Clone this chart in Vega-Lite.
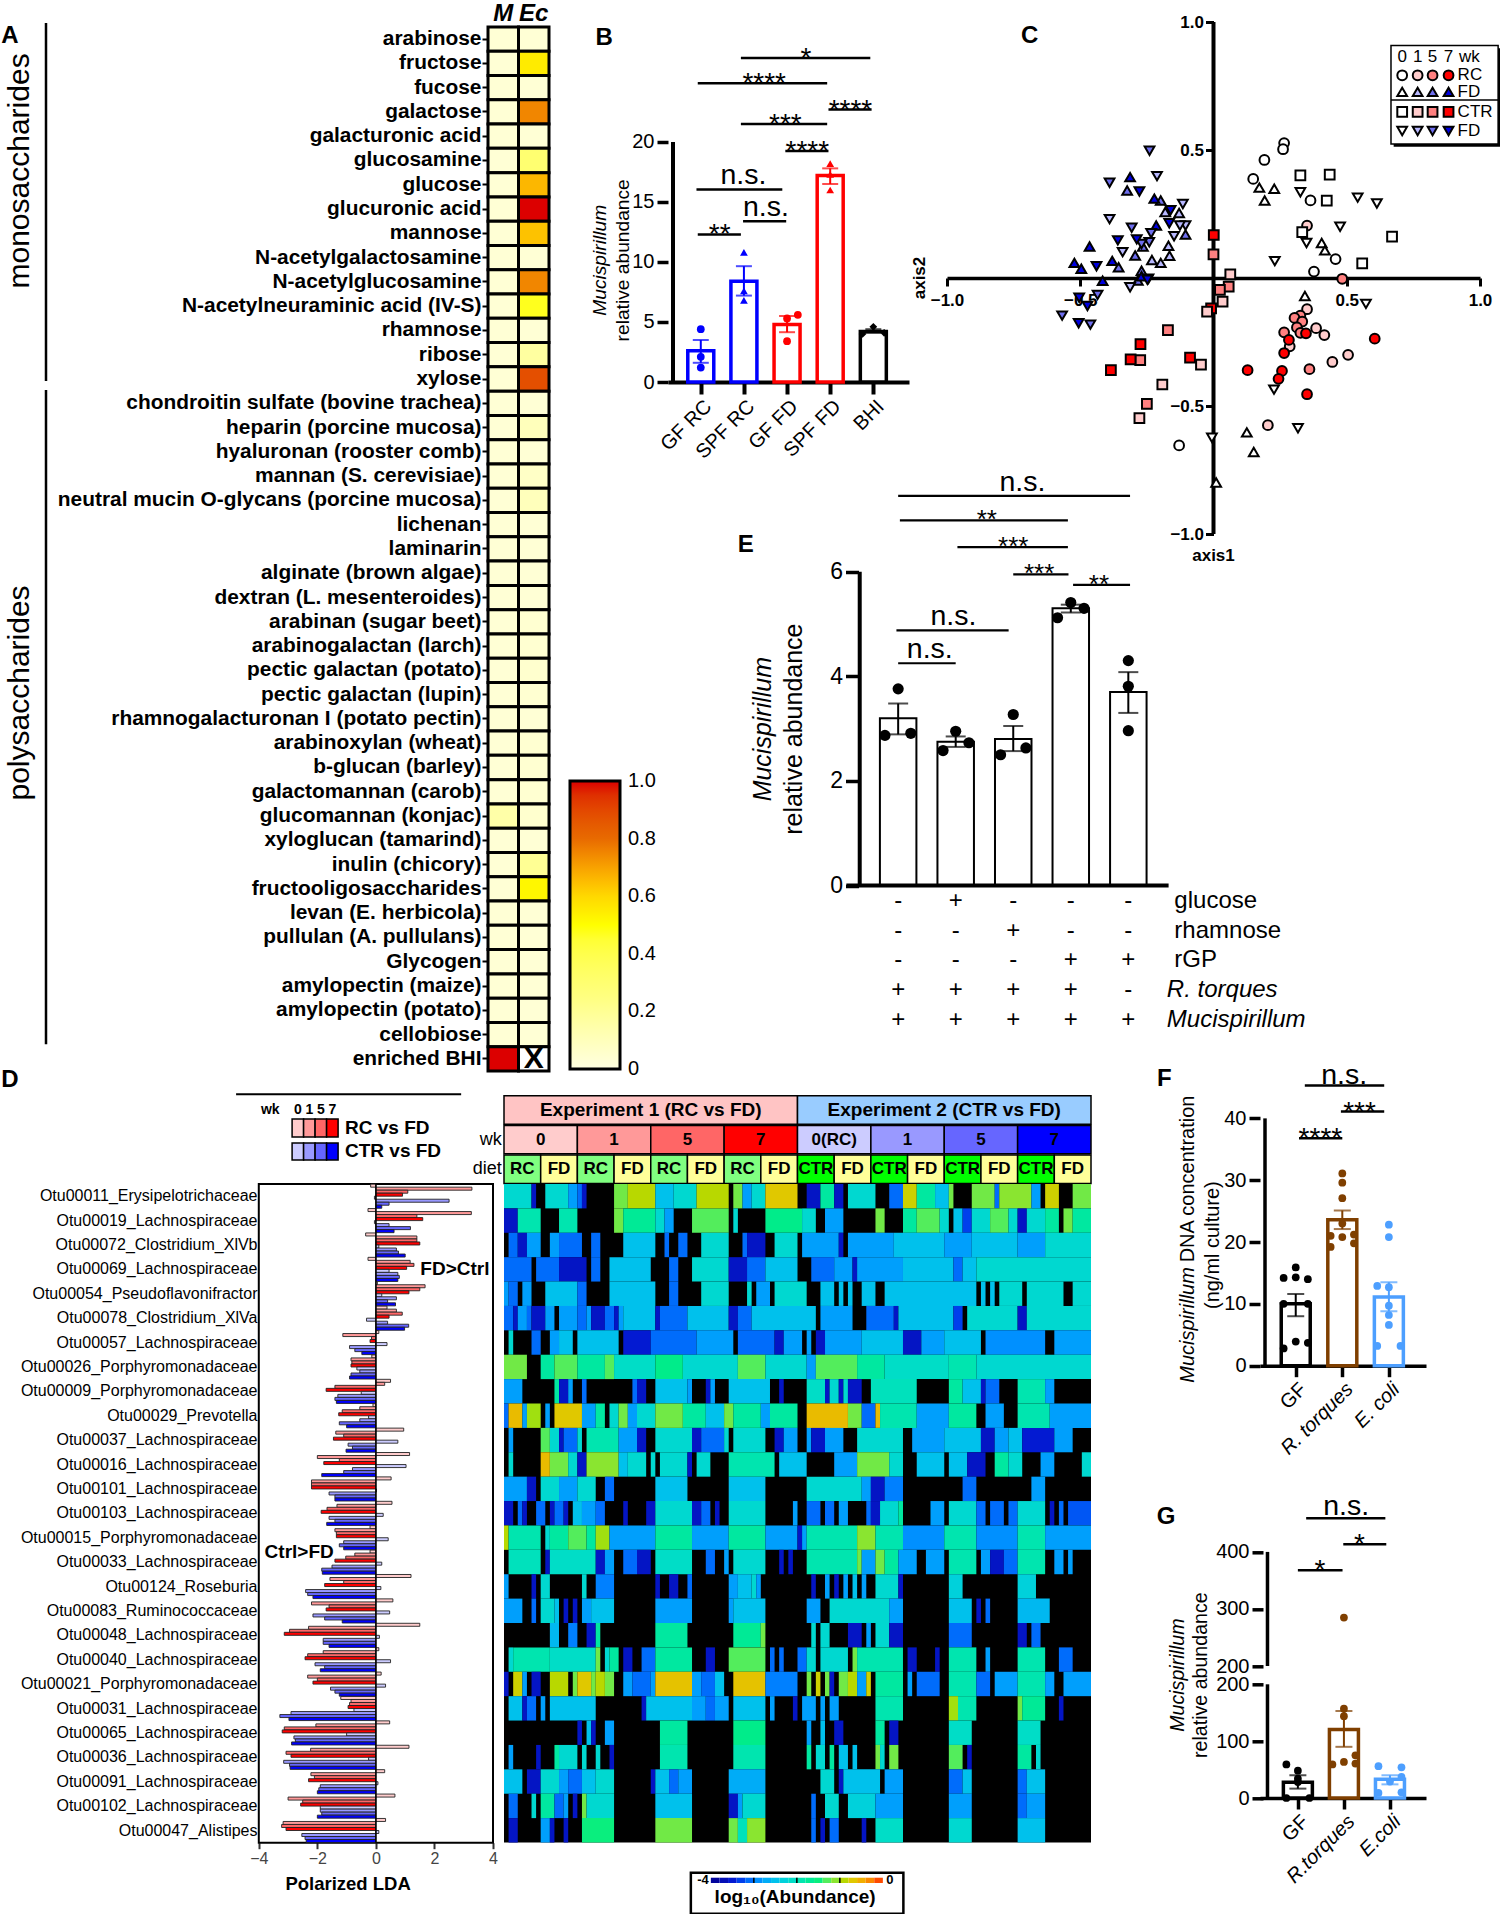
{"$schema":"https://vega.github.io/schema/vega-lite/v6.json","padding":0,"background":"white","config":{"font":"Liberation Sans","view":{"stroke":null},"axis":{"grid":false,"labelColor":"black","tickColor":"black","domainColor":"black","labelFlush":false,"labelOverlap":false,"labelFont":"Liberation Sans","labelBound":false},"text":{"font":"Liberation Sans"}},
"bounds":"flush","spacing":1072,"resolve":{"scale":{"color":"independent","stroke":"independent","shape":"independent"}},
"vconcat":[
{"hconcat":[
 {"hconcat":[
  {"width":488,"height":1071,
   "encoding":{"x":{"field":"x","type":"quantitative","scale":{"domain":[0,488],"nice":false,"zero":false},"axis":null},"y":{"field":"y","type":"quantitative","scale":{"domain":[43,-1.11],"nice":false,"zero":false},"axis":null}},
   "layer":[
    {"data":{"values":[{"x":46,"y":-0.16,"y2":14.58},{"x":46,"y":14.95,"y2":41.9}]},"mark":{"type":"rule","strokeWidth":2.5,"color":"black"},"encoding":{"y2":{"field":"y2"}}},
    {"data":{"values":[{"x":20,"y":5.93,"t":"monosaccharides"},{"x":20,"y":27.43,"t":"polysaccharides"}]},"mark":{"type":"text","angle":270,"fontSize":30,"baseline":"middle","align":"center"},"encoding":{"text":{"field":"t"}}},
    {"data":{"values":[{"x":10,"y":0.37,"t":"A"}]},"mark":{"type":"text","fontSize":24,"fontWeight":"bold","baseline":"middle","align":"center"},"encoding":{"text":{"field":"t"}}}
   ]},
  {"width":61,"height":1071,
   "encoding":{"x":{"field":"c","type":"nominal","scale":{"domain":["M","Ec"],"paddingInner":0,"paddingOuter":0},"axis":null},
    "y":{"field":"s","type":"nominal","scale":{"domain":["_h","arabinose","fructose","fucose","galactose","galacturonic acid","glucosamine","glucose","glucuronic acid","mannose","N-acetylgalactosamine","N-acetylglucosamine","N-acetylneuraminic acid (IV-S)","rhamnose","ribose","xylose","chondroitin sulfate (bovine trachea)","heparin (porcine mucosa)","hyaluronan (rooster comb)","mannan (S. cerevisiae)","neutral mucin O-glycans (porcine mucosa)","lichenan","laminarin","alginate (brown algae)","dextran (L. mesenteroides)","arabinan (sugar beet)","arabinogalactan (larch)","pectic galactan (potato)","pectic galactan (lupin)","rhamnogalacturonan I (potato pectin)","arabinoxylan (wheat)","b-glucan (barley)","galactomannan (carob)","glucomannan (konjac)","xyloglucan (tamarind)","inulin (chicory)","fructooligosaccharides","levan (E. herbicola)","pullulan (A. pullulans)","Glycogen","amylopectin (maize)","amylopectin (potato)","cellobiose","enriched BHI"],"paddingInner":0,"paddingOuter":0.055,"align":1},
     "axis":{"title":null,"domain":false,"tickSize":6,"tickWidth":2,"labelFontSize":20.9,"labelFontWeight":"bold","labelPadding":1,"labelLimit":600,"values":["arabinose","fructose","fucose","galactose","galacturonic acid","glucosamine","glucose","glucuronic acid","mannose","N-acetylgalactosamine","N-acetylglucosamine","N-acetylneuraminic acid (IV-S)","rhamnose","ribose","xylose","chondroitin sulfate (bovine trachea)","heparin (porcine mucosa)","hyaluronan (rooster comb)","mannan (S. cerevisiae)","neutral mucin O-glycans (porcine mucosa)","lichenan","laminarin","alginate (brown algae)","dextran (L. mesenteroides)","arabinan (sugar beet)","arabinogalactan (larch)","pectic galactan (potato)","pectic galactan (lupin)","rhamnogalacturonan I (potato pectin)","arabinoxylan (wheat)","b-glucan (barley)","galactomannan (carob)","glucomannan (konjac)","xyloglucan (tamarind)","inulin (chicory)","fructooligosaccharides","levan (E. herbicola)","pullulan (A. pullulans)","Glycogen","amylopectin (maize)","amylopectin (potato)","cellobiose","enriched BHI"]}}},
   "layer":[
    {"data":{"values":[{"s":"arabinose","c":"M","v":0.03},{"s":"arabinose","c":"Ec","v":0.03},{"s":"fructose","c":"M","v":0.03},{"s":"fructose","c":"Ec","v":0.55},{"s":"fucose","c":"M","v":0.03},{"s":"fucose","c":"Ec","v":0.03},{"s":"galactose","c":"M","v":0.03},{"s":"galactose","c":"Ec","v":0.75},{"s":"galacturonic acid","c":"M","v":0.03},{"s":"galacturonic acid","c":"Ec","v":0.03},{"s":"glucosamine","c":"M","v":0.03},{"s":"glucosamine","c":"Ec","v":0.3},{"s":"glucose","c":"M","v":0.03},{"s":"glucose","c":"Ec","v":0.66},{"s":"glucuronic acid","c":"M","v":0.03},{"s":"glucuronic acid","c":"Ec","v":1},{"s":"mannose","c":"M","v":0.03},{"s":"mannose","c":"Ec","v":0.64},{"s":"N-acetylgalactosamine","c":"M","v":0.03},{"s":"N-acetylgalactosamine","c":"Ec","v":0.03},{"s":"N-acetylglucosamine","c":"M","v":0.03},{"s":"N-acetylglucosamine","c":"Ec","v":0.75},{"s":"N-acetylneuraminic acid (IV-S)","c":"M","v":0.03},{"s":"N-acetylneuraminic acid (IV-S)","c":"Ec","v":0.48},{"s":"rhamnose","c":"M","v":0.03},{"s":"rhamnose","c":"Ec","v":0.03},{"s":"ribose","c":"M","v":0.03},{"s":"ribose","c":"Ec","v":0.17},{"s":"xylose","c":"M","v":0.03},{"s":"xylose","c":"Ec","v":0.88},{"s":"chondroitin sulfate (bovine trachea)","c":"M","v":0.03},{"s":"chondroitin sulfate (bovine trachea)","c":"Ec","v":0.03},{"s":"heparin (porcine mucosa)","c":"M","v":0.03},{"s":"heparin (porcine mucosa)","c":"Ec","v":0.1},{"s":"hyaluronan (rooster comb)","c":"M","v":0.03},{"s":"hyaluronan (rooster comb)","c":"Ec","v":0.03},{"s":"mannan (S. cerevisiae)","c":"M","v":0.03},{"s":"mannan (S. cerevisiae)","c":"Ec","v":0.07},{"s":"neutral mucin O-glycans (porcine mucosa)","c":"M","v":0.03},{"s":"neutral mucin O-glycans (porcine mucosa)","c":"Ec","v":0.1},{"s":"lichenan","c":"M","v":0.03},{"s":"lichenan","c":"Ec","v":0.03},{"s":"laminarin","c":"M","v":0.03},{"s":"laminarin","c":"Ec","v":0.03},{"s":"alginate (brown algae)","c":"M","v":0.03},{"s":"alginate (brown algae)","c":"Ec","v":0.03},{"s":"dextran (L. mesenteroides)","c":"M","v":0.03},{"s":"dextran (L. mesenteroides)","c":"Ec","v":0.03},{"s":"arabinan (sugar beet)","c":"M","v":0.03},{"s":"arabinan (sugar beet)","c":"Ec","v":0.04},{"s":"arabinogalactan (larch)","c":"M","v":0.03},{"s":"arabinogalactan (larch)","c":"Ec","v":0.04},{"s":"pectic galactan (potato)","c":"M","v":0.03},{"s":"pectic galactan (potato)","c":"Ec","v":0.05},{"s":"pectic galactan (lupin)","c":"M","v":0.03},{"s":"pectic galactan (lupin)","c":"Ec","v":0.04},{"s":"rhamnogalacturonan I (potato pectin)","c":"M","v":0.03},{"s":"rhamnogalacturonan I (potato pectin)","c":"Ec","v":0.03},{"s":"arabinoxylan (wheat)","c":"M","v":0.03},{"s":"arabinoxylan (wheat)","c":"Ec","v":0.04},{"s":"b-glucan (barley)","c":"M","v":0.03},{"s":"b-glucan (barley)","c":"Ec","v":0.04},{"s":"galactomannan (carob)","c":"M","v":0.03},{"s":"galactomannan (carob)","c":"Ec","v":0.04},{"s":"glucomannan (konjac)","c":"M","v":0.15},{"s":"glucomannan (konjac)","c":"Ec","v":0.05},{"s":"xyloglucan (tamarind)","c":"M","v":0.03},{"s":"xyloglucan (tamarind)","c":"Ec","v":0.03},{"s":"inulin (chicory)","c":"M","v":0.03},{"s":"inulin (chicory)","c":"Ec","v":0.2},{"s":"fructooligosaccharides","c":"M","v":0.03},{"s":"fructooligosaccharides","c":"Ec","v":0.52},{"s":"levan (E. herbicola)","c":"M","v":0.03},{"s":"levan (E. herbicola)","c":"Ec","v":0.03},{"s":"pullulan (A. pullulans)","c":"M","v":0.03},{"s":"pullulan (A. pullulans)","c":"Ec","v":0.03},{"s":"Glycogen","c":"M","v":0.03},{"s":"Glycogen","c":"Ec","v":0.03},{"s":"amylopectin (maize)","c":"M","v":0.03},{"s":"amylopectin (maize)","c":"Ec","v":0.03},{"s":"amylopectin (potato)","c":"M","v":0.03},{"s":"amylopectin (potato)","c":"Ec","v":0.03},{"s":"cellobiose","c":"M","v":0.03},{"s":"cellobiose","c":"Ec","v":0.03},{"s":"enriched BHI","c":"M","v":1}]},
     "mark":{"type":"rect","stroke":"black","strokeWidth":3},
     "encoding":{"color":{"field":"v","type":"quantitative","scale":{"domain":[0,0.25,0.5,0.6,0.8,1],"range":["#ffffe0","#ffff80","#ffff00","#ffd800","#e86a00","#dc0000"]},
       "legend":{"orient":"none","legendX":82,"legendY":781,"title":null,"type":"gradient","direction":"vertical","gradientLength":288,"gradientThickness":50,"gradientStrokeColor":"black","gradientStrokeWidth":3,"values":[0,0.2,0.4,0.6,0.8,1],"labelFontSize":20,"labelColor":"black","labelExpr":"datum.value==0?'0':format(datum.value,'.1f')","labelOffset":8,"encode":{"labels":{"update":{"baseline":{"value":"middle"}}}}}}}},
    {"data":{"values":[{"s":"enriched BHI","c":"Ec"}]},"mark":{"type":"rect","fill":"white","stroke":"black","strokeWidth":3}},
    {"data":{"values":[{"s":"enriched BHI","c":"Ec","t":"X"}]},"mark":{"type":"text","fontSize":30,"fontWeight":"bold","color":"black","baseline":"middle"},"encoding":{"text":{"field":"t"}}},
    {"data":{"values":[{"s":"_h","c":"M","t":"M"},{"s":"_h","c":"Ec","t":"Ec"}]},"mark":{"type":"text","fontSize":24,"fontWeight":"bold","fontStyle":"italic","color":"black","baseline":"middle","dy":-1},"encoding":{"text":{"field":"t"}}}
   ]}
 ],"spacing":0,"bounds":"flush","resolve":{"scale":{"color":"independent","stroke":"independent","shape":"independent"}}},
 {"vconcat":[
  {"hconcat":[
   {"width":241,"height":382,
    "encoding":{"x":{"field":"x","type":"quantitative","scale":{"domain":[-0.644,4.711],"nice":false,"zero":false},"axis":{"title":null,"values":[0,1,2,3,4],"labelExpr":"['GF RC','SPF RC','GF FD','SPF FD','BHI'][datum.value]","labelAngle":-45,"labelAlign":"right","labelBaseline":"top","tickSize":12,"tickWidth":4,"domainWidth":4,"labelFontSize":20,"labelPadding":2}},
     "y":{"field":"y","type":"quantitative","stack":null,"scale":{"domain":[0,31.83],"nice":false,"zero":false},"axis":{"title":null,"values":[0,5,10,15,20],"domain":false,"tickSize":11,"tickWidth":3.5,"labelFontSize":20,"labelPadding":3}}},
    "layer":[
     {"data":{"values":[{"x":-0.644,"y":0,"y2":20}]},"mark":{"type":"rule","strokeWidth":4,"color":"black"},"encoding":{"y2":{"field":"y2"}}},
     {"data":{"values":[{"x":0,"y":2.6,"k":"RC"},{"x":1,"y":8.4,"k":"RC"},{"x":2,"y":4.8,"k":"FD"},{"x":3,"y":17.2,"k":"FD"},{"x":4,"y":4.2,"k":"BHI"}]},"mark":{"type":"bar","orient":"vertical","width":26,"fill":"white","strokeWidth":3.5},"encoding":{"stroke":{"field":"k","type":"nominal","scale":{"domain":["RC","FD","BHI"],"range":["#0000ff","#ff0000","#000000"]},"legend":null}}},
     {"data":{"values":[{"x":0,"y":1.6,"y2":3.5,"k":"RC"},{"x":1,"y":7.2,"y2":9.65,"k":"RC"},{"x":2,"y":4.15,"y2":5.5,"k":"FD"},{"x":3,"y":16.5,"y2":17.8,"k":"FD"},{"x":4,"y":4.1,"y2":4.4,"k":"BHI"}]},"mark":{"type":"errorbar","ticks":{"size":16,"thickness":2},"rule":{"strokeWidth":2}},"encoding":{"y2":{"field":"y2"},"color":{"field":"k","type":"nominal","scale":{"domain":["RC","FD","BHI"],"range":["#0000ff","#ff0000","#000000"]},"legend":null}}},
     {"data":{"values":[{"x":0,"y":4.4,"k":"RC","g":"GF"},{"x":0,"y":2.1,"k":"RC","g":"GF"},{"x":0,"y":1.2,"k":"RC","g":"GF"},{"x":1,"y":10.8,"k":"RC","g":"SPF"},{"x":1,"y":7.6,"k":"RC","g":"SPF"},{"x":1,"y":6.8,"k":"RC","g":"SPF"},{"x":2,"y":5.3,"k":"FD","g":"GF"},{"x":2.25,"y":5.6,"k":"FD","g":"GF"},{"x":2,"y":3.4,"k":"FD","g":"GF"},{"x":3,"y":18.2,"k":"FD","g":"SPF"},{"x":3,"y":17.3,"k":"FD","g":"SPF"},{"x":3,"y":16,"k":"FD","g":"SPF"},{"x":4,"y":4.6,"k":"BHI","g":"BHI"},{"x":3.75,"y":4,"k":"BHI","g":"BHI"},{"x":4.25,"y":4.1,"k":"BHI","g":"BHI"}]},"mark":{"type":"point","filled":true,"opacity":1,"size":60},"encoding":{"color":{"field":"k","type":"nominal","scale":{"domain":["RC","FD","BHI"],"range":["#0000ff","#ff0000","#000000"]},"legend":null},"shape":{"field":"g","type":"nominal","scale":{"domain":["GF","SPF","BHI"],"range":["circle","triangle-up","diamond"]},"legend":null}}},
     {"data":{"values":[{"x":0.93,"x2":3.93,"y":27},{"x":-0.07,"x2":2.93,"y":24.9},{"x":2.96,"x2":3.96,"y":22.7},{"x":0.93,"x2":2.93,"y":21.5},{"x":1.96,"x2":2.96,"y":19.25},{"x":-0.1,"x2":1.89,"y":16.05},{"x":0.98,"x2":1.98,"y":13.4},{"x":-0.07,"x2":0.93,"y":12.3}]},"mark":{"type":"rule","strokeWidth":2.5,"color":"black"},"encoding":{"x2":{"field":"x2"}}},
     {"data":{"values":[{"x":2.44,"y":27,"t":"*"},{"x":1.47,"y":24.9,"t":"****"},{"x":3.47,"y":22.7,"t":"****"},{"x":1.96,"y":21.5,"t":"***"},{"x":2.47,"y":19.25,"t":"****"},{"x":0.44,"y":12.3,"t":"**"}]},"mark":{"type":"text","fontSize":28,"dy":9,"baseline":"alphabetic"},"encoding":{"text":{"field":"t"}}},
     {"data":{"values":[{"x":0.99,"y":16.05,"t":"n.s."},{"x":1.51,"y":13.4,"t":"n.s."}]},"mark":{"type":"text","fontSize":28.5,"dy":-5,"baseline":"alphabetic"},"encoding":{"text":{"field":"t"}}},
     {"data":{"values":[{"x":-2.34,"y":10.14,"t":"Mucispirillum"}]},"mark":{"type":"text","fontSize":19.2,"fontStyle":"italic","angle":270,"baseline":"middle"},"encoding":{"text":{"field":"t"}}},
     {"data":{"values":[{"x":-1.8,"y":10.14,"t":"relative abundance"}]},"mark":{"type":"text","fontSize":19.2,"angle":270,"baseline":"middle"},"encoding":{"text":{"field":"t"}}},
     {"data":{"values":[{"x":-2.24,"y":28.7,"t":"B"}]},"mark":{"type":"text","fontSize":24,"fontWeight":"bold","baseline":"middle"},"encoding":{"text":{"field":"t"}}}
    ]},
   {"width":533,"height":534,
    "encoding":{"x":{"field":"x","type":"quantitative","scale":{"domain":[-1,1],"nice":false,"zero":false},"axis":{"title":null,"offset":-256,"values":[-1,-0.5,0.5,1],"format":".1f","labelFontSize":17,"labelFontWeight":"bold","tickSize":8,"tickWidth":3,"domainWidth":3.5,"labelPadding":6}},
     "y":{"field":"y","type":"quantitative","scale":{"domain":[-1,1.086],"nice":false,"zero":false},"axis":{"title":null,"offset":-266.5,"values":[-1,-0.5,0.5,1],"format":".1f","domain":false,"labelFontSize":17,"labelFontWeight":"bold","tickSize":8,"tickWidth":3,"labelPadding":2}}},
    "layer":[
     {"data":{"values":[{"x":0,"y":-1,"y2":1}]},"mark":{"type":"rule","strokeWidth":4,"color":"black"},"encoding":{"y2":{"field":"y2"}}},
     {"data":{"values":[{"x":0.676,"x2":1.077,"y":0.898,"y2":0.513}]},"mark":{"type":"rect","fill":"black"},"encoding":{"x2":{"field":"x2"},"y2":{"field":"y2"}}},
     {"data":{"values":[{"x":0.666,"x2":1.068,"y":0.908,"y2":0.523}]},"mark":{"type":"rect","fill":"white","stroke":"black","strokeWidth":1.5},"encoding":{"x2":{"field":"x2"},"y2":{"field":"y2"}}},
     {"data":{"values":[{"x":0.666,"x2":1.068,"y":0.695}]},"mark":{"type":"rule","stroke":"black","strokeWidth":1.5},"encoding":{"x2":{"field":"x2"}}},
     {"data":{"values":[{"x":0.708,"y":0.862,"t":"0"},{"x":0.766,"y":0.862,"t":"1"},{"x":0.822,"y":0.862,"t":"5"},{"x":0.882,"y":0.862,"t":"7"},{"x":0.96,"y":0.862,"t":"wk"}]},"mark":{"type":"text","fontSize":17,"align":"center","baseline":"middle"},"encoding":{"text":{"field":"t"}}},
     {"data":{"values":[{"x":0.916,"y":0.792,"t":"RC"},{"x":0.916,"y":0.727,"t":"FD"},{"x":0.916,"y":0.649,"t":"CTR"},{"x":0.916,"y":0.574,"t":"FD"}]},"mark":{"type":"text","fontSize":17,"align":"left","baseline":"middle"},"encoding":{"text":{"field":"t"}}},
     {"data":{"values":[{"x":0.708,"y":0.792,"g":"c","k":"W"},{"x":0.766,"y":0.792,"g":"c","k":"R1"},{"x":0.822,"y":0.792,"g":"c","k":"R5"},{"x":0.882,"y":0.792,"g":"c","k":"R7"},{"x":0.708,"y":0.727,"g":"u","k":"W"},{"x":0.766,"y":0.727,"g":"u","k":"B1"},{"x":0.822,"y":0.727,"g":"u","k":"B5"},{"x":0.882,"y":0.727,"g":"u","k":"B7"},{"x":0.708,"y":0.649,"g":"s","k":"W"},{"x":0.766,"y":0.649,"g":"s","k":"R1"},{"x":0.822,"y":0.649,"g":"s","k":"R5"},{"x":0.882,"y":0.649,"g":"s","k":"R7"},{"x":0.708,"y":0.574,"g":"d","k":"W"},{"x":0.766,"y":0.574,"g":"d","k":"B1"},{"x":0.822,"y":0.574,"g":"d","k":"B5"},{"x":0.882,"y":0.574,"g":"d","k":"B7"},
      {"x":0.265,"y":0.527,"g":"c","k":"W"},{"x":0.261,"y":0.503,"g":"c","k":"W"},{"x":0.191,"y":0.461,"g":"c","k":"W"},{"x":0.149,"y":0.387,"g":"c","k":"W"},{"x":0.364,"y":0.303,"g":"c","k":"W"},{"x":0.458,"y":0.074,"g":"c","k":"W"},{"x":0.377,"y":0.025,"g":"c","k":"W"},{"x":-0.129,"y":-0.654,"g":"c","k":"W"},
      {"x":0.351,"y":0.205,"g":"c","k":"R1"},{"x":0.351,"y":-0.122,"g":"c","k":"R1"},{"x":0.385,"y":-0.196,"g":"c","k":"R1"},{"x":0.416,"y":-0.223,"g":"c","k":"R1"},{"x":0.286,"y":-0.267,"g":"c","k":"R1"},{"x":0.505,"y":-0.3,"g":"c","k":"R1"},{"x":0.446,"y":-0.328,"g":"c","k":"R1"},{"x":0.204,"y":-0.575,"g":"c","k":"R1"},
      {"x":0.483,"y":-0.003,"g":"c","k":"R5"},{"x":0.326,"y":-0.147,"g":"c","k":"R5"},{"x":0.304,"y":-0.156,"g":"c","k":"R5"},{"x":0.333,"y":-0.17,"g":"c","k":"R5"},{"x":0.313,"y":-0.193,"g":"c","k":"R5"},{"x":0.265,"y":-0.212,"g":"c","k":"R5"},{"x":0.326,"y":-0.214,"g":"c","k":"R5"},{"x":0.36,"y":-0.356,"g":"c","k":"R5"},
      {"x":0.347,"y":-0.216,"g":"c","k":"R7"},{"x":0.283,"y":-0.242,"g":"c","k":"R7"},{"x":0.265,"y":-0.293,"g":"c","k":"R7"},{"x":0.605,"y":-0.237,"g":"c","k":"R7"},{"x":0.128,"y":-0.36,"g":"c","k":"R7"},{"x":0.257,"y":-0.363,"g":"c","k":"R7"},{"x":0.244,"y":-0.394,"g":"c","k":"R7"},{"x":0.351,"y":-0.454,"g":"c","k":"R7"},
      {"x":0.172,"y":0.353,"g":"u","k":"W"},{"x":0.228,"y":0.349,"g":"u","k":"W"},{"x":0.192,"y":0.303,"g":"u","k":"W"},{"x":0.406,"y":0.137,"g":"u","k":"W"},{"x":0.418,"y":0.108,"g":"u","k":"W"},{"x":0.343,"y":-0.07,"g":"u","k":"W"},{"x":0.125,"y":-0.603,"g":"u","k":"W"},{"x":0.151,"y":-0.68,"g":"u","k":"W"},{"x":0.01,"y":-0.799,"g":"u","k":"W"},
      {"x":-0.165,"y":0.087,"g":"u","k":"B1"},{"x":-0.198,"y":0.059,"g":"u","k":"B1"},{"x":-0.231,"y":0.07,"g":"u","k":"B1"},{"x":-0.169,"y":0.126,"g":"u","k":"B1"},{"x":-0.129,"y":0.254,"g":"u","k":"B1"},{"x":-0.181,"y":0.258,"g":"u","k":"B1"},
      {"x":-0.324,"y":0.342,"g":"u","k":"B5"},{"x":-0.198,"y":0.303,"g":"u","k":"B5"},{"x":-0.105,"y":0.17,"g":"u","k":"B5"},{"x":-0.294,"y":0.088,"g":"u","k":"B5"},{"x":-0.265,"y":0.123,"g":"u","k":"B5"},{"x":-0.356,"y":0.042,"g":"u","k":"B5"},{"x":-0.284,"y":-0.01,"g":"u","k":"B5"},{"x":-0.27,"y":0.028,"g":"u","k":"B5"},
      {"x":-0.313,"y":0.394,"g":"u","k":"B7"},{"x":-0.222,"y":0.31,"g":"u","k":"B7"},{"x":-0.215,"y":0.205,"g":"u","k":"B7"},{"x":-0.465,"y":0.123,"g":"u","k":"B7"},{"x":-0.522,"y":0.059,"g":"u","k":"B7"},{"x":-0.496,"y":0.036,"g":"u","k":"B7"},{"x":-0.38,"y":0.067,"g":"u","k":"B7"},{"x":-0.416,"y":-0.011,"g":"u","k":"B7"},{"x":-0.27,"y":0.007,"g":"u","k":"B7"},
      {"x":0.326,"y":0.401,"g":"s","k":"W"},{"x":0.436,"y":0.404,"g":"s","k":"W"},{"x":0.425,"y":0.302,"g":"s","k":"W"},{"x":0.333,"y":0.179,"g":"s","k":"W"},{"x":0.67,"y":0.162,"g":"s","k":"W"},{"x":0.558,"y":0.057,"g":"s","k":"W"},
      {"x":0.063,"y":0.014,"g":"s","k":"R1"},{"x":0.034,"y":-0.092,"g":"s","k":"R1"},{"x":-0.047,"y":-0.338,"g":"s","k":"R1"},{"x":-0.192,"y":-0.416,"g":"s","k":"R1"},{"x":-0.278,"y":-0.547,"g":"s","k":"R1"},
      {"x":0,"y":0.092,"g":"s","k":"R5"},{"x":0.057,"y":-0.034,"g":"s","k":"R5"},{"x":0.024,"y":-0.046,"g":"s","k":"R5"},{"x":-0.171,"y":-0.204,"g":"s","k":"R5"},{"x":-0.275,"y":-0.321,"g":"s","k":"R5"},{"x":-0.25,"y":-0.492,"g":"s","k":"R5"},
      {"x":0.001,"y":0.168,"g":"s","k":"R7"},{"x":-0.009,"y":-0.119,"g":"s","k":"R7"},{"x":-0.274,"y":-0.258,"g":"s","k":"R7"},{"x":-0.311,"y":-0.318,"g":"s","k":"R7"},{"x":-0.385,"y":-0.36,"g":"s","k":"R7"},{"x":-0.088,"y":-0.311,"g":"s","k":"R7"},{"x":-0.024,"y":-0.131,"g":"s","k":"R1"},
      {"x":0.326,"y":0.335,"g":"d","k":"W"},{"x":0.541,"y":0.314,"g":"d","k":"W"},{"x":0.613,"y":0.291,"g":"d","k":"W"},{"x":0.475,"y":0.2,"g":"d","k":"W"},{"x":0.349,"y":0.137,"g":"d","k":"W"},{"x":0.23,"y":0.066,"g":"d","k":"W"},{"x":0.572,"y":-0.101,"g":"d","k":"W"},{"x":0.227,"y":-0.436,"g":"d","k":"W"},{"x":0.317,"y":-0.587,"g":"d","k":"W"},{"x":-0.006,"y":-0.624,"g":"d","k":"W"},
      {"x":-0.212,"y":0.398,"g":"d","k":"B1"},{"x":-0.115,"y":0.289,"g":"d","k":"B1"},{"x":-0.39,"y":0.23,"g":"d","k":"B1"},{"x":-0.148,"y":0.163,"g":"d","k":"B1"},{"x":-0.105,"y":0.205,"g":"d","k":"B1"},{"x":-0.126,"y":0.205,"g":"d","k":"B1"},{"x":-0.313,"y":-0.036,"g":"d","k":"B1"},{"x":-0.244,"y":-0.003,"g":"d","k":"B1"},{"x":-0.341,"y":0.101,"g":"d","k":"B1"},
      {"x":-0.24,"y":0.497,"g":"d","k":"B5"},{"x":-0.39,"y":0.372,"g":"d","k":"B5"},{"x":-0.307,"y":0.196,"g":"d","k":"B5"},{"x":-0.234,"y":0.175,"g":"d","k":"B5"},{"x":-0.241,"y":0.14,"g":"d","k":"B5"},{"x":-0.27,"y":0.133,"g":"d","k":"B5"},{"x":-0.435,"y":-0.066,"g":"d","k":"B5"},{"x":-0.568,"y":-0.147,"g":"d","k":"B5"},{"x":-0.462,"y":-0.182,"g":"d","k":"B5"},
      {"x":-0.278,"y":0.338,"g":"d","k":"B7"},{"x":-0.161,"y":0.265,"g":"d","k":"B7"},{"x":-0.166,"y":0.214,"g":"d","k":"B7"},{"x":-0.359,"y":0.147,"g":"d","k":"B7"},{"x":-0.288,"y":0.151,"g":"d","k":"B7"},{"x":-0.439,"y":0.046,"g":"d","k":"B7"},{"x":-0.504,"y":-0.077,"g":"d","k":"B7"},{"x":-0.473,"y":-0.109,"g":"d","k":"B7"},{"x":-0.506,"y":-0.177,"g":"d","k":"B7"},{"x":-0.248,"y":-0.007,"g":"d","k":"B7"}]},
      "mark":{"type":"point","filled":true,"opacity":1,"stroke":"black","strokeWidth":2,"size":95},"encoding":{"color":{"field":"k","type":"nominal","scale":{"domain":["W","R1","R5","R7","B1","B5","B7"],"range":["#ffffff","#ffcccc","#ff8080","#ff0000","#b8b8ff","#6e6eee","#0000e0"]},"legend":null},"shape":{"field":"g","type":"nominal","scale":{"domain":["c","u","s","d"],"range":["circle","triangle-up","square","triangle-down"]},"legend":null}}},
     {"data":{"values":[{"x":0,"y":-1,"t":"axis1"}]},"mark":{"type":"text","fontSize":17,"fontWeight":"bold","dy":22,"baseline":"middle"},"encoding":{"text":{"field":"t"}}},
     {"data":{"values":[{"x":-1.1,"y":0,"t":"axis2"}]},"mark":{"type":"text","fontSize":17,"fontWeight":"bold","angle":270,"baseline":"middle"},"encoding":{"text":{"field":"t"}}},
     {"data":{"values":[{"x":-0.69,"y":0.947,"t":"C"}]},"mark":{"type":"text","fontSize":24,"fontWeight":"bold","baseline":"middle"},"encoding":{"text":{"field":"t"}}}
    ]}
  ],"spacing":38,"bounds":"flush","resolve":{"scale":{"color":"independent","stroke":"independent","shape":"independent"}}},
  {"width":505.6,"height":415.5,
   "encoding":{"x":{"field":"x","type":"quantitative","scale":{"domain":[-3.913,4.7],"nice":false,"zero":false},"axis":null},
    "y":{"field":"y","type":"quantitative","stack":null,"scale":{"domain":[0,7.945],"nice":false,"zero":false},"axis":{"title":null,"offset":-190.5,"values":[0,2,4,6],"domain":false,"tickSize":13,"tickWidth":3.5,"labelFontSize":23,"labelPadding":3}}},
   "layer":[
    {"data":{"values":[{"x":-0.668,"y":0,"y2":6}]},"mark":{"type":"rule","strokeWidth":4,"color":"black"},"encoding":{"y2":{"field":"y2"}}},
    {"data":{"values":[{"x":0,"y":3.2},{"x":1,"y":2.75},{"x":2,"y":2.8},{"x":3,"y":5.3},{"x":4,"y":3.7}]},"mark":{"type":"bar","orient":"vertical","width":36.5,"fill":"white","stroke":"black","strokeWidth":2}},
    {"data":{"values":[{"x":-0.9,"x2":4.7,"y":0}]},"mark":{"type":"rule","strokeWidth":4,"color":"black"},"encoding":{"x2":{"field":"x2"}}},
    {"data":{"values":[{"x":0,"y":2.89,"y2":3.48},{"x":1,"y":2.65,"y2":2.85},{"x":2,"y":2.57,"y2":3.05},{"x":3,"y":5.22,"y2":5.37},{"x":4,"y":3.3,"y2":4.08}]},"mark":{"type":"errorbar","color":"black","ticks":{"size":20,"thickness":2},"rule":{"strokeWidth":2}},"encoding":{"y2":{"field":"y2"}}},
    {"data":{"values":[{"x":0,"y":3.76},{"x":-0.23,"y":2.87},{"x":0.22,"y":2.91},{"x":1,"y":2.95},{"x":0.78,"y":2.58},{"x":1.23,"y":2.73},{"x":2,"y":3.27},{"x":1.78,"y":2.5},{"x":2.22,"y":2.63},{"x":3,"y":5.41},{"x":2.77,"y":5.12},{"x":3.23,"y":5.3},{"x":4,"y":4.3},{"x":4,"y":3.81},{"x":4,"y":2.96}]},"mark":{"type":"point","filled":true,"opacity":1,"color":"black","size":125,"shape":"circle"}},
    {"data":{"values":[{"x":0,"x2":4.03,"y":7.45},{"x":0.03,"x2":2.95,"y":6.98},{"x":1.03,"x2":2.95,"y":6.47},{"x":2,"x2":2.96,"y":5.95},{"x":3.04,"x2":4.03,"y":5.75},{"x":-0.03,"x2":1.92,"y":4.88},{"x":0,"x2":1,"y":4.25}]},"mark":{"type":"rule","strokeWidth":2.2,"color":"black"},"encoding":{"x2":{"field":"x2"}}},
    {"data":{"values":[{"x":1.54,"y":6.98,"t":"**"},{"x":2,"y":6.47,"t":"***"},{"x":2.45,"y":5.95,"t":"***"},{"x":3.49,"y":5.75,"t":"**"}]},"mark":{"type":"text","fontSize":26,"dy":8,"baseline":"alphabetic"},"encoding":{"text":{"field":"t"}}},
    {"data":{"values":[{"x":2.16,"y":7.45,"t":"n.s."},{"x":0.96,"y":4.88,"t":"n.s."},{"x":0.55,"y":4.25,"t":"n.s."}]},"mark":{"type":"text","fontSize":28.5,"dy":-5,"baseline":"alphabetic"},"encoding":{"text":{"field":"t"}}},
    {"data":{"values":[{"x":0,"y":-0.29,"t":"-"},{"x":1,"y":-0.29,"t":"+"},{"x":2,"y":-0.29,"t":"-"},{"x":3,"y":-0.29,"t":"-"},{"x":4,"y":-0.29,"t":"-"},{"x":0,"y":-0.87,"t":"-"},{"x":1,"y":-0.87,"t":"-"},{"x":2,"y":-0.87,"t":"+"},{"x":3,"y":-0.87,"t":"-"},{"x":4,"y":-0.87,"t":"-"},{"x":0,"y":-1.43,"t":"-"},{"x":1,"y":-1.43,"t":"-"},{"x":2,"y":-1.43,"t":"-"},{"x":3,"y":-1.43,"t":"+"},{"x":4,"y":-1.43,"t":"+"},{"x":0,"y":-2,"t":"+"},{"x":1,"y":-2,"t":"+"},{"x":2,"y":-2,"t":"+"},{"x":3,"y":-2,"t":"+"},{"x":4,"y":-2,"t":"-"},{"x":0,"y":-2.57,"t":"+"},{"x":1,"y":-2.57,"t":"+"},{"x":2,"y":-2.57,"t":"+"},{"x":3,"y":-2.57,"t":"+"},{"x":4,"y":-2.57,"t":"+"}]},"mark":{"type":"text","fontSize":24,"baseline":"middle"},"encoding":{"text":{"field":"t"}}},
    {"data":{"values":[{"x":4.8,"y":-0.29,"t":"glucose"},{"x":4.8,"y":-0.87,"t":"rhamnose"},{"x":4.8,"y":-1.43,"t":"rGP"}]},"mark":{"type":"text","fontSize":24,"align":"left","baseline":"middle"},"encoding":{"text":{"field":"t"}}},
    {"data":{"values":[{"x":4.67,"y":-2,"t":"R. torques"},{"x":4.67,"y":-2.57,"t":"Mucispirillum"}]},"mark":{"type":"text","fontSize":24,"fontStyle":"italic","align":"left","baseline":"middle"},"encoding":{"text":{"field":"t"}}},
    {"data":{"values":[{"x":-2.35,"y":2.99,"t":"Mucispirillum"}]},"mark":{"type":"text","fontSize":25,"fontStyle":"italic","angle":270,"baseline":"middle"},"encoding":{"text":{"field":"t"}}},
    {"data":{"values":[{"x":-1.81,"y":2.99,"t":"relative abundance"}]},"mark":{"type":"text","fontSize":25,"angle":270,"baseline":"middle"},"encoding":{"text":{"field":"t"}}},
    {"data":{"values":[{"x":-2.65,"y":6.52,"t":"E"}]},"mark":{"type":"text","fontSize":24,"fontWeight":"bold","baseline":"middle"},"encoding":{"text":{"field":"t"}}}
   ]}
 ],"spacing":470,"bounds":"flush","resolve":{"scale":{"color":"independent","stroke":"independent","shape":"independent"}}}
],"spacing":668,"bounds":"flush","resolve":{"scale":{"color":"independent","stroke":"independent","shape":"independent"}}},
{"hconcat":[
 {"vconcat":[
  {"width":493,"height":111.3,
   "encoding":{"x":{"field":"x","type":"quantitative","scale":{"domain":[-25.4,17.47],"nice":false,"zero":false},"axis":null},"y":{"field":"y","type":"quantitative","scale":{"domain":[5,0],"nice":false,"zero":false},"axis":null}},
   "layer":[
    {"data":{"values":[{"x":-4.87,"x2":14.7,"y":1}]},"mark":{"type":"rule","strokeWidth":2,"color":"black"},"encoding":{"x2":{"field":"x2"}}},
    {"data":{"values":[{"x":0,"x2":1,"y":2.11,"y2":2.92,"k":"R0"},{"x":1,"x2":2,"y":2.11,"y2":2.92,"k":"R1"},{"x":2,"x2":3,"y":2.11,"y2":2.92,"k":"R5"},{"x":3,"x2":4,"y":2.11,"y2":2.92,"k":"R7"},{"x":0,"x2":1,"y":3.19,"y2":3.95,"k":"B0"},{"x":1,"x2":2,"y":3.19,"y2":3.95,"k":"B1"},{"x":2,"x2":3,"y":3.19,"y2":3.95,"k":"B5"},{"x":3,"x2":4,"y":3.19,"y2":3.95,"k":"B7"}]},"mark":{"type":"rect","stroke":"black","strokeWidth":1.5},"encoding":{"x2":{"field":"x2"},"y2":{"field":"y2"},"color":{"field":"k","type":"nominal","scale":{"domain":["R0","R1","R5","R7","B0","B1","B5","B7"],"range":["#ffcccc","#ff9999","#ff6666","#ff0000","#ccccff","#9999ff","#6666ff","#0000ff"]},"legend":null}}},
    {"data":{"values":[{"x":-1.9,"y":1.7,"t":"wk"},{"x":0.5,"y":1.7,"t":"0"},{"x":1.5,"y":1.7,"t":"1"},{"x":2.5,"y":1.7,"t":"5"},{"x":3.5,"y":1.7,"t":"7"}]},"mark":{"type":"text","fontSize":14,"fontWeight":"bold","baseline":"middle"},"encoding":{"text":{"field":"t"}}},
    {"data":{"values":[{"x":4.6,"y":2.52,"t":"RC vs FD"},{"x":4.6,"y":3.57,"t":"CTR vs FD"}]},"mark":{"type":"text","fontSize":19,"fontWeight":"bold","align":"left","baseline":"middle"},"encoding":{"text":{"field":"t"}}},
    {"data":{"values":[{"x":-25.3,"y":0.36,"t":"D"}]},"mark":{"type":"text","fontSize":24,"fontWeight":"bold","align":"left","baseline":"middle"},"encoding":{"text":{"field":"t"}}}
   ]},
  {"width":493,"height":658.7,
   "layer":[
    {"data":{"values":[{"x":-4,"x2":4}]},"mark":{"type":"rect","fill":"transparent","stroke":"black","strokeWidth":2},"encoding":{"x":{"field":"x","type":"quantitative","scale":{"domain":[-12.84,4],"nice":false,"zero":false},"axis":{"title":null,"values":[-4,-2,0,2,4],"domain":false,"tickSize":6,"tickWidth":2,"tickColor":"#333333","labelColor":"#444444","labelFontSize":16,"format":"d"}},"x2":{"field":"x2"}}},
    {"data":{"values":[
     {"o":"11","s":"R0","v":-0.18},{"o":"11","s":"R1","v":3.28},{"o":"11","s":"R5","v":1.09},{"o":"11","s":"R7","v":0.91},{"o":"11","s":"B0","v":-0.05},{"o":"11","s":"B1","v":2.5},{"o":"11","s":"B5","v":0.45},{"o":"11","s":"B7","v":0.2},
     {"o":"19","s":"R0","v":-0.27},{"o":"19","s":"R1","v":3.26},{"o":"19","s":"R5","v":1.4},{"o":"19","s":"R7","v":1.6},{"o":"19","s":"B0","v":-0.05},{"o":"19","s":"B1","v":0.45},{"o":"19","s":"B5","v":1.18},{"o":"19","s":"B7","v":0.62},
     {"o":"72","s":"R0","v":-0.35},{"o":"72","s":"R1","v":1.4},{"o":"72","s":"R5","v":1.4},{"o":"72","s":"R7","v":1.5},{"o":"72","s":"B0","v":0.1},{"o":"72","s":"B1","v":0.7},{"o":"72","s":"B5","v":0.77},{"o":"72","s":"B7","v":1},
     {"o":"69","s":"R0","v":-0.27},{"o":"69","s":"R1","v":1.17},{"o":"69","s":"R5","v":1.3},{"o":"69","s":"R7","v":1.05},{"o":"69","s":"B0","v":0.45},{"o":"69","s":"B1","v":0.75},{"o":"69","s":"B5","v":0.8},{"o":"69","s":"B7","v":0.75},
     {"o":"54","s":"R0","v":0.05},{"o":"54","s":"R1","v":1.68},{"o":"54","s":"R5","v":1.5},{"o":"54","s":"R7","v":1.13},{"o":"54","s":"B0","v":0.2},{"o":"54","s":"B1","v":0.7},{"o":"54","s":"B5","v":0.4},{"o":"54","s":"B7","v":0.67},
     {"o":"78","s":"R0","v":0.38},{"o":"78","s":"R1","v":0.7},{"o":"78","s":"R5","v":0.9},{"o":"78","s":"R7","v":0.45},{"o":"78","s":"B0","v":-0.32},{"o":"78","s":"B1","v":0.4},{"o":"78","s":"B5","v":1.12},{"o":"78","s":"B7","v":0.98},
     {"o":"57","s":"R0","v":0.1},{"o":"57","s":"R1","v":-1.13},{"o":"57","s":"R5","v":-0.15},{"o":"57","s":"R7","v":-0.2},{"o":"57","s":"B0","v":0.38},{"o":"57","s":"B1","v":-0.9},{"o":"57","s":"B5","v":-0.72},{"o":"57","s":"B7","v":-0.48},
     {"o":"26","s":"R0","v":-0.14},{"o":"26","s":"R1","v":-0.85},{"o":"26","s":"R5","v":-0.82},{"o":"26","s":"R7","v":-0.85},{"o":"26","s":"B0","v":-0.65},{"o":"26","s":"B1","v":-0.55},{"o":"26","s":"B5","v":-0.85},{"o":"26","s":"B7","v":-0.9},
     {"o":"09","s":"R0","v":0.5},{"o":"09","s":"R1","v":0.3},{"o":"09","s":"R5","v":-1.4},{"o":"09","s":"R7","v":-1.7},{"o":"09","s":"B0","v":-0.5},{"o":"09","s":"B1","v":-1.3},{"o":"09","s":"B5","v":-1.4},{"o":"09","s":"B7","v":-1.35},
     {"o":"29","s":"R0","v":-0.1},{"o":"29","s":"R1","v":-0.55},{"o":"29","s":"R5","v":-1.15},{"o":"29","s":"R7","v":-1.27},{"o":"29","s":"B0","v":-0.25},{"o":"29","s":"B1","v":-0.55},{"o":"29","s":"B5","v":-1.25},{"o":"29","s":"B7","v":-1},
     {"o":"37","s":"R0","v":0.95},{"o":"37","s":"R1","v":-1.37},{"o":"37","s":"R5","v":-1.1},{"o":"37","s":"R7","v":-1.45},{"o":"37","s":"B0","v":0.75},{"o":"37","s":"B1","v":-0.95},{"o":"37","s":"B5","v":-0.8},{"o":"37","s":"B7","v":-1.02},
     {"o":"16","s":"R0","v":1.15},{"o":"16","s":"R1","v":-2},{"o":"16","s":"R5","v":-1.25},{"o":"16","s":"R7","v":-1.78},{"o":"16","s":"B0","v":1.03},{"o":"16","s":"B1","v":-0.8},{"o":"16","s":"B5","v":-1.1},{"o":"16","s":"B7","v":-1.85},
     {"o":"101","s":"R0","v":0.52},{"o":"101","s":"R1","v":-2.2},{"o":"101","s":"R5","v":-2.2},{"o":"101","s":"R7","v":-2.2},{"o":"101","s":"B0","v":0.02},{"o":"101","s":"B1","v":-1.6},{"o":"101","s":"B5","v":-1.4},{"o":"101","s":"B7","v":-1.4},
     {"o":"103","s":"R0","v":0.55},{"o":"103","s":"R1","v":-1.33},{"o":"103","s":"R5","v":-1.67},{"o":"103","s":"R7","v":-1.87},{"o":"103","s":"B0","v":0.25},{"o":"103","s":"B1","v":-1.6},{"o":"103","s":"B5","v":-1.4},{"o":"103","s":"B7","v":-1.68},
     {"o":"15","s":"R0","v":-0.2},{"o":"15","s":"R1","v":-1.4},{"o":"15","s":"R5","v":-1.35},{"o":"15","s":"R7","v":-1.35},{"o":"15","s":"B0","v":0.42},{"o":"15","s":"B1","v":-1.1},{"o":"15","s":"B5","v":-1.25},{"o":"15","s":"B7","v":-1.1},
     {"o":"33","s":"R0","v":-0.2},{"o":"33","s":"R1","v":-0.72},{"o":"33","s":"R5","v":-1.03},{"o":"33","s":"R7","v":-1.4},{"o":"33","s":"B0","v":0.2},{"o":"33","s":"B1","v":-1.5},{"o":"33","s":"B5","v":-1.85},{"o":"33","s":"B7","v":-1.83},
     {"o":"124","s":"R0","v":1.2},{"o":"124","s":"R1","v":-1.57},{"o":"124","s":"R5","v":-1.1},{"o":"124","s":"R7","v":-1.75},{"o":"124","s":"B0","v":0.17},{"o":"124","s":"B1","v":-2.4},{"o":"124","s":"B5","v":-2.33},{"o":"124","s":"B7","v":-2.15},
     {"o":"83","s":"R0","v":0.58},{"o":"83","s":"R1","v":-2.2},{"o":"83","s":"R5","v":-1.6},{"o":"83","s":"R7","v":-1.7},{"o":"83","s":"B0","v":0.47},{"o":"83","s":"B1","v":-2.15},{"o":"83","s":"B5","v":-1.75},{"o":"83","s":"B7","v":-1.15},
     {"o":"48","s":"R0","v":1.5},{"o":"48","s":"R1","v":-2.3},{"o":"48","s":"R5","v":-2.95},{"o":"48","s":"R7","v":-3.13},{"o":"48","s":"B0","v":0.12},{"o":"48","s":"B1","v":-1.8},{"o":"48","s":"B5","v":-1.8},{"o":"48","s":"B7","v":-1.6},
     {"o":"40","s":"R0","v":0.1},{"o":"40","s":"R1","v":-1.8},{"o":"40","s":"R5","v":-2.33},{"o":"40","s":"R7","v":-2.42},{"o":"40","s":"B0","v":0.5},{"o":"40","s":"B1","v":-2.08},{"o":"40","s":"B5","v":-1.75},{"o":"40","s":"B7","v":-1.9},
     {"o":"21","s":"R0","v":0.18},{"o":"21","s":"R1","v":-2.33},{"o":"21","s":"R5","v":-2},{"o":"21","s":"R7","v":-2.15},{"o":"21","s":"B0","v":0.33},{"o":"21","s":"B1","v":-1.55},{"o":"21","s":"B5","v":-1.4},{"o":"21","s":"B7","v":-1.25},
     {"o":"31","s":"R0","v":-1.2},{"o":"31","s":"R1","v":-0.85},{"o":"31","s":"R5","v":-0.9},{"o":"31","s":"R7","v":-0.95},{"o":"31","s":"B0","v":-0.75},{"o":"31","s":"B1","v":-2.9},{"o":"31","s":"B5","v":-3.28},{"o":"31","s":"B7","v":-2.97},
     {"o":"65","s":"R0","v":0.47},{"o":"65","s":"R1","v":-2.05},{"o":"65","s":"R5","v":-3.13},{"o":"65","s":"R7","v":-3.2},{"o":"65","s":"B0","v":-1},{"o":"65","s":"B1","v":-2.8},{"o":"65","s":"B5","v":-2.75},{"o":"65","s":"B7","v":-2.88},
     {"o":"36","s":"R0","v":1.13},{"o":"36","s":"R1","v":-2.23},{"o":"36","s":"R5","v":-3.07},{"o":"36","s":"R7","v":-2.9},{"o":"36","s":"B0","v":-0.25},{"o":"36","s":"B1","v":-3.15},{"o":"36","s":"B5","v":-2.95},{"o":"36","s":"B7","v":-2.93},
     {"o":"91","s":"R0","v":0.3},{"o":"91","s":"R1","v":-2.22},{"o":"91","s":"R5","v":-2.1},{"o":"91","s":"R7","v":-2.3},{"o":"91","s":"B0","v":0.07},{"o":"91","s":"B1","v":-1.9},{"o":"91","s":"B5","v":-1.95},{"o":"91","s":"B7","v":-2},
     {"o":"102","s":"R0","v":0.65},{"o":"102","s":"R1","v":-3},{"o":"102","s":"R5","v":-2.5},{"o":"102","s":"R7","v":-2.57},{"o":"102","s":"B0","v":-1.9},{"o":"102","s":"B1","v":-1.9},{"o":"102","s":"B5","v":-1.85},{"o":"102","s":"B7","v":-2},
     {"o":"47","s":"R0","v":0.33},{"o":"47","s":"R1","v":-3.17},{"o":"47","s":"R5","v":-3.22},{"o":"47","s":"R7","v":-3.07},{"o":"47","s":"B0","v":0.1},{"o":"47","s":"B1","v":-2.53},{"o":"47","s":"B5","v":-2.42},{"o":"47","s":"B7","v":-2.38}
     ]},
     "mark":{"type":"bar","stroke":"#222222","strokeWidth":0.9},
     "encoding":{"x":{"field":"v","type":"quantitative"},
      "y":{"field":"o","type":"nominal","scale":{"domain":["11","19","72","69","54","78","57","26","09","29","37","16","101","103","15","33","124","83","48","40","21","31","65","36","91","102","47"],"paddingInner":0,"paddingOuter":0},"axis":{"title":null,"offset":-259,"domain":false,"ticks":false,"labelFontSize":16,"labelPadding":2,"labelLimit":400,"labelExpr":"({'11':'Otu00011_Erysipelotrichaceae','19':'Otu00019_Lachnospiraceae','72':'Otu00072_Clostridium_XlVb','69':'Otu00069_Lachnospiraceae','54':'Otu00054_Pseudoflavonifractor','78':'Otu00078_Clostridium_XlVa','57':'Otu00057_Lachnospiraceae','26':'Otu00026_Porphyromonadaceae','09':'Otu00009_Porphyromonadaceae','29':'Otu00029_Prevotella','37':'Otu00037_Lachnospiraceae','16':'Otu00016_Lachnospiraceae','101':'Otu00101_Lachnospiraceae','103':'Otu00103_Lachnospiraceae','15':'Otu00015_Porphyromonadaceae','33':'Otu00033_Lachnospiraceae','124':'Otu00124_Roseburia','83':'Otu00083_Ruminococcaceae','48':'Otu00048_Lachnospiraceae','40':'Otu00040_Lachnospiraceae','21':'Otu00021_Porphyromonadaceae','31':'Otu00031_Lachnospiraceae','65':'Otu00065_Lachnospiraceae','36':'Otu00036_Lachnospiraceae','91':'Otu00091_Lachnospiraceae','102':'Otu00102_Lachnospiraceae','47':'Otu00047_Alistipes'})[datum.value]"}},
      "yOffset":{"field":"s","type":"nominal","scale":{"domain":["R0","R1","R5","R7","B0","B1","B5","B7"],"paddingInner":0,"paddingOuter":0.05}},
      "color":{"field":"s","type":"nominal","scale":{"domain":["R0","R1","R5","R7","B0","B1","B5","B7"],"range":["#ffcccc","#ff9999","#ff6666","#ff0000","#ccccff","#9999ff","#6666ff","#0000ff"]},"legend":null}}},
    {"data":{"values":[{"x":0}]},"mark":{"type":"rule","stroke":"black","strokeWidth":1.5},"encoding":{"x":{"field":"x","type":"quantitative"}}},
    {"data":{"values":[{"x":2.7,"o":"69","t":"FD>Ctrl"}]},"mark":{"type":"text","fontSize":19,"fontWeight":"bold","baseline":"middle"},"encoding":{"x":{"field":"x","type":"quantitative"},"y":{"field":"o","type":"nominal"},"text":{"field":"t"}}},
    {"data":{"values":[{"x":-2.62,"o":"33","t":"Ctrl>FD"}]},"mark":{"type":"text","fontSize":19,"fontWeight":"bold","baseline":"middle","dy":-10},"encoding":{"x":{"field":"x","type":"quantitative"},"y":{"field":"o","type":"nominal"},"text":{"field":"t"}}},
    {"data":{"values":[{"x":-0.95,"o":"47","t":"Polarized LDA"}]},"mark":{"type":"text","fontSize":18.5,"fontWeight":"bold","baseline":"middle","dy":53},"encoding":{"x":{"field":"x","type":"quantitative"},"y":{"field":"o","type":"nominal"},"text":{"field":"t"}}}
   ]}
 ],"spacing":0,"bounds":"flush","resolve":{"scale":{"color":"independent","stroke":"independent","shape":"independent"}}},
 {"hconcat":[
  {"vconcat":[
   {"width":587,"height":111.5,
    "encoding":{"x":{"field":"a","type":"quantitative","scale":{"domain":[0,128],"nice":false,"zero":false},"axis":null},"y":{"field":"l","type":"nominal","scale":{"domain":["exp","wk","diet"],"paddingInner":0.04,"paddingOuter":0.4,"align":1},"axis":null}},
    "layer":[
     {"data":{"values":[{"l":"exp","a":0,"b":64,"k":"E1"},{"l":"exp","a":64,"b":128,"k":"E2"},{"l":"wk","a":0,"b":16,"k":"r0"},{"l":"wk","a":16,"b":32,"k":"r1"},{"l":"wk","a":32,"b":48,"k":"r5"},{"l":"wk","a":48,"b":64,"k":"r7"},{"l":"wk","a":64,"b":80,"k":"b0"},{"l":"wk","a":80,"b":96,"k":"b1"},{"l":"wk","a":96,"b":112,"k":"b5"},{"l":"wk","a":112,"b":128,"k":"b7"},{"l":"diet","a":0,"b":8,"k":"RC"},{"l":"diet","a":8,"b":16,"k":"FD"},{"l":"diet","a":16,"b":24,"k":"RC"},{"l":"diet","a":24,"b":32,"k":"FD"},{"l":"diet","a":32,"b":40,"k":"RC"},{"l":"diet","a":40,"b":48,"k":"FD"},{"l":"diet","a":48,"b":56,"k":"RC"},{"l":"diet","a":56,"b":64,"k":"FD"},{"l":"diet","a":64,"b":72,"k":"CTR"},{"l":"diet","a":72,"b":80,"k":"FD"},{"l":"diet","a":80,"b":88,"k":"CTR"},{"l":"diet","a":88,"b":96,"k":"FD"},{"l":"diet","a":96,"b":104,"k":"CTR"},{"l":"diet","a":104,"b":112,"k":"FD"},{"l":"diet","a":112,"b":120,"k":"CTR"},{"l":"diet","a":120,"b":128,"k":"FD"}]},"mark":{"type":"rect","stroke":"black","strokeWidth":1.5},"encoding":{"x2":{"field":"b"},"color":{"field":"k","type":"nominal","scale":{"domain":["E1","E2","r0","r1","r5","r7","b0","b1","b5","b7","RC","FD","CTR"],"range":["#ffc4c4","#99ccff","#ffcccc","#ff9999","#ff6666","#ff0000","#ccccff","#9999ff","#6666ff","#0000ff","#80ff80","#ffff99","#00ff00"]},"legend":null}}},
     {"data":{"values":[{"l":"exp","a":32,"t":"Experiment 1 (RC vs FD)"},{"l":"exp","a":96,"t":"Experiment 2 (CTR vs FD)"}]},"mark":{"type":"text","fontSize":19,"fontWeight":"bold","baseline":"middle"},"encoding":{"text":{"field":"t"}}},
     {"data":{"values":[{"l":"wk","a":8,"t":"0"},{"l":"wk","a":24,"t":"1"},{"l":"wk","a":40,"t":"5"},{"l":"wk","a":56,"t":"7"},{"l":"wk","a":72,"t":"0(RC)"},{"l":"wk","a":88,"t":"1"},{"l":"wk","a":104,"t":"5"},{"l":"wk","a":120,"t":"7"},{"l":"diet","a":4,"t":"RC"},{"l":"diet","a":12,"t":"FD"},{"l":"diet","a":20,"t":"RC"},{"l":"diet","a":28,"t":"FD"},{"l":"diet","a":36,"t":"RC"},{"l":"diet","a":44,"t":"FD"},{"l":"diet","a":52,"t":"RC"},{"l":"diet","a":60,"t":"FD"},{"l":"diet","a":68,"t":"CTR"},{"l":"diet","a":76,"t":"FD"},{"l":"diet","a":84,"t":"CTR"},{"l":"diet","a":92,"t":"FD"},{"l":"diet","a":100,"t":"CTR"},{"l":"diet","a":108,"t":"FD"},{"l":"diet","a":116,"t":"CTR"},{"l":"diet","a":124,"t":"FD"}]},"mark":{"type":"text","fontSize":17,"fontWeight":"bold","baseline":"middle"},"encoding":{"text":{"field":"t"}}},
     {"data":{"values":[{"l":"wk","a":-0.5,"t":"wk"},{"l":"diet","a":-0.5,"t":"diet"}]},"mark":{"type":"text","fontSize":18,"align":"right","baseline":"middle"},"encoding":{"text":{"field":"t"}}}
    ]},
   {"width":587,"height":658.5,"view":{"fill":"black","stroke":null},
    "data":{"values":[
{"r":0,"a":0,"b":6,"v":-2.2},{"r":0,"a":6,"b":7,"v":-3.6},{"r":0,"a":9,"b":14,"v":-2.2},{"r":0,"a":14,"b":16,"v":-2.8},{"r":0,"a":16,"b":17,"v":-3.1},{"r":0,"a":17,"b":18,"v":-3.6},{"r":0,"a":24,"b":27,"v":-1.2},{"r":0,"a":27,"b":33,"v":-0.9},{"r":0,"a":33,"b":37,"v":-2.5},{"r":0,"a":37,"b":42,"v":-2.2},{"r":0,"a":42,"b":49,"v":-0.9},{"r":0,"a":50,"b":52,"v":-1.2},{"r":0,"a":52,"b":54,"v":-2.8},{"r":0,"a":54,"b":57,"v":-2.2},{"r":0,"a":57,"b":64,"v":-0.7},{"r":0,"a":66,"b":69,"v":-3.6},{"r":0,"a":69,"b":72,"v":-1.8},{"r":0,"a":72,"b":74,"v":-3.6},{"r":0,"a":75,"b":81,"v":-2.2},{"r":0,"a":84,"b":87,"v":-3.1},{"r":0,"a":87,"b":90,"v":-0.8},{"r":0,"a":90,"b":94,"v":-1.8},{"r":0,"a":94,"b":97,"v":-2.5},{"r":0,"a":97,"b":98,"v":-1.2},{"r":0,"a":102,"b":107,"v":-1.2},{"r":0,"a":107,"b":108,"v":-3.1},{"r":0,"a":108,"b":115,"v":-1.1},{"r":0,"a":115,"b":117,"v":-2.8},{"r":0,"a":118,"b":121,"v":-0.8},{"r":0,"a":124,"b":128,"v":-1.2},
{"r":1,"a":0,"b":3,"v":-3.6},{"r":1,"a":3,"b":8,"v":-1.9},{"r":1,"a":12,"b":16,"v":-1.9},{"r":1,"a":24,"b":26,"v":-1.2},{"r":1,"a":26,"b":33,"v":-1.7},{"r":1,"a":33,"b":35,"v":-2.2},{"r":1,"a":35,"b":37,"v":-2.8},{"r":1,"a":41,"b":49,"v":-1.3},{"r":1,"a":50,"b":51,"v":-2.2},{"r":1,"a":57,"b":65,"v":-1.6},{"r":1,"a":65,"b":68,"v":-2.2},{"r":1,"a":70,"b":74,"v":-2.8},{"r":1,"a":81,"b":83,"v":-1.2},{"r":1,"a":87,"b":90,"v":-1.8},{"r":1,"a":90,"b":95,"v":-1.3},{"r":1,"a":95,"b":97,"v":-2.2},{"r":1,"a":98,"b":100,"v":-2.5},{"r":1,"a":100,"b":102,"v":-3.3},{"r":1,"a":102,"b":106,"v":-2.2},{"r":1,"a":106,"b":110,"v":-1.3},{"r":1,"a":110,"b":112,"v":-2.2},{"r":1,"a":112,"b":114,"v":-3.6},{"r":1,"a":114,"b":118,"v":-2.2},{"r":1,"a":118,"b":121,"v":-1.8},{"r":1,"a":122,"b":124,"v":-1.2},{"r":1,"a":124,"b":128,"v":-1.8},
{"r":2,"a":1,"b":3,"v":-3.1},{"r":2,"a":3,"b":5,"v":-3.6},{"r":2,"a":5,"b":8,"v":-2.8},{"r":2,"a":10,"b":12,"v":-2.8},{"r":2,"a":12,"b":17,"v":-3.1},{"r":2,"a":19,"b":21,"v":-3.1},{"r":2,"a":26,"b":33,"v":-2.5},{"r":2,"a":35,"b":36,"v":-3.1},{"r":2,"a":38,"b":40,"v":-3.1},{"r":2,"a":43,"b":49,"v":-2.2},{"r":2,"a":52,"b":53,"v":-3.1},{"r":2,"a":53,"b":57,"v":-3.6},{"r":2,"a":59,"b":64,"v":-2.2},{"r":2,"a":65,"b":73,"v":-2.8},{"r":2,"a":73,"b":74,"v":-3.6},{"r":2,"a":75,"b":85,"v":-2.8},{"r":2,"a":85,"b":96,"v":-2.5},{"r":2,"a":96,"b":102,"v":-2.8},{"r":2,"a":102,"b":112,"v":-2.5},{"r":2,"a":112,"b":118,"v":-2.8},{"r":2,"a":118,"b":128,"v":-2.2},
{"r":3,"a":0,"b":6,"v":-3.1},{"r":3,"a":7,"b":12,"v":-3.1},{"r":3,"a":12,"b":18,"v":-3.6},{"r":3,"a":19,"b":21,"v":-3.1},{"r":3,"a":23,"b":32,"v":-2.5},{"r":3,"a":36,"b":38,"v":-3.1},{"r":3,"a":41,"b":49,"v":-2.2},{"r":3,"a":49,"b":53,"v":-3.6},{"r":3,"a":53,"b":57,"v":-3.1},{"r":3,"a":57,"b":64,"v":-2.5},{"r":3,"a":67,"b":72,"v":-3.1},{"r":3,"a":72,"b":76,"v":-2.8},{"r":3,"a":76,"b":77,"v":-3.6},{"r":3,"a":77,"b":87,"v":-2.8},{"r":3,"a":87,"b":98,"v":-2.5},{"r":3,"a":98,"b":100,"v":-3.1},{"r":3,"a":100,"b":103,"v":-2.5},{"r":3,"a":103,"b":128,"v":-2.2},
{"r":4,"a":0,"b":1,"v":-2.8},{"r":4,"a":1,"b":3,"v":-3.1},{"r":4,"a":4,"b":6,"v":-2.8},{"r":4,"a":9,"b":16,"v":-2.5},{"r":4,"a":16,"b":18,"v":-3.1},{"r":4,"a":23,"b":33,"v":-2.5},{"r":4,"a":36,"b":38,"v":-3.1},{"r":4,"a":43,"b":49,"v":-2.2},{"r":4,"a":53,"b":54,"v":-2.2},{"r":4,"a":55,"b":58,"v":-2.8},{"r":4,"a":59,"b":66,"v":-2.2},{"r":4,"a":69,"b":72,"v":-2.5},{"r":4,"a":73,"b":74,"v":-2.5},{"r":4,"a":75,"b":76,"v":-2.5},{"r":4,"a":78,"b":81,"v":-2.5},{"r":4,"a":83,"b":103,"v":-2.5},{"r":4,"a":104,"b":105,"v":-2.5},{"r":4,"a":106,"b":107,"v":-2.5},{"r":4,"a":108,"b":113,"v":-2.2},{"r":4,"a":114,"b":122,"v":-2.2},{"r":4,"a":124,"b":128,"v":-2.2},
{"r":5,"a":0,"b":2,"v":-3.1},{"r":5,"a":2,"b":3,"v":-3.6},{"r":5,"a":3,"b":5,"v":-2.8},{"r":5,"a":5,"b":6,"v":-3.1},{"r":5,"a":6,"b":9,"v":-3.6},{"r":5,"a":9,"b":11,"v":-2.8},{"r":5,"a":12,"b":16,"v":-2.8},{"r":5,"a":16,"b":18,"v":-3.1},{"r":5,"a":18,"b":19,"v":-2.8},{"r":5,"a":19,"b":22,"v":-3.6},{"r":5,"a":22,"b":24,"v":-3.1},{"r":5,"a":24,"b":25,"v":-3.6},{"r":5,"a":25,"b":26,"v":-2.8},{"r":5,"a":26,"b":33,"v":-2.5},{"r":5,"a":33,"b":34,"v":-3.6},{"r":5,"a":34,"b":40,"v":-3.1},{"r":5,"a":40,"b":49,"v":-2.5},{"r":5,"a":49,"b":51,"v":-3.6},{"r":5,"a":51,"b":54,"v":-3.1},{"r":5,"a":54,"b":68,"v":-2.5},{"r":5,"a":69,"b":76,"v":-2.8},{"r":5,"a":79,"b":85,"v":-3.1},{"r":5,"a":85,"b":86,"v":-3.6},{"r":5,"a":86,"b":98,"v":-2.5},{"r":5,"a":98,"b":100,"v":-3.3},{"r":5,"a":101,"b":112,"v":-2.2},{"r":5,"a":112,"b":114,"v":-3.6},{"r":5,"a":114,"b":128,"v":-2.2},
{"r":6,"a":1,"b":2,"v":-2.2},{"r":6,"a":6,"b":8,"v":-3.1},{"r":6,"a":10,"b":12,"v":-2.8},{"r":6,"a":12,"b":15,"v":-2.5},{"r":6,"a":16,"b":25,"v":-2.5},{"r":6,"a":26,"b":32,"v":-3.5},{"r":6,"a":32,"b":42,"v":-3.1},{"r":6,"a":42,"b":50,"v":-2.8},{"r":6,"a":51,"b":59,"v":-3.1},{"r":6,"a":59,"b":61,"v":-3.6},{"r":6,"a":61,"b":65,"v":-2.8},{"r":6,"a":66,"b":67,"v":-2.8},{"r":6,"a":68,"b":70,"v":-3.6},{"r":6,"a":70,"b":78,"v":-2.8},{"r":6,"a":78,"b":87,"v":-2.5},{"r":6,"a":87,"b":91,"v":-3.6},{"r":6,"a":91,"b":96,"v":-2.8},{"r":6,"a":96,"b":104,"v":-2.5},{"r":6,"a":105,"b":118,"v":-2.9},{"r":6,"a":120,"b":128,"v":-2.8},
{"r":7,"a":0,"b":5,"v":-1.2},{"r":7,"a":8,"b":11,"v":-1.8},{"r":7,"a":11,"b":16,"v":-1.3},{"r":7,"a":16,"b":22,"v":-1.8},{"r":7,"a":22,"b":24,"v":-1.3},{"r":7,"a":24,"b":33,"v":-2.1},{"r":7,"a":33,"b":39,"v":-1.6},{"r":7,"a":39,"b":51,"v":-2.2},{"r":7,"a":51,"b":57,"v":-1.3},{"r":7,"a":57,"b":66,"v":-2.2},{"r":7,"a":66,"b":68,"v":-2.8},{"r":7,"a":68,"b":77,"v":-1.3},{"r":7,"a":77,"b":83,"v":-1.8},{"r":7,"a":83,"b":97,"v":-2.1},{"r":7,"a":97,"b":103,"v":-1.9},{"r":7,"a":103,"b":128,"v":-2.2},
{"r":8,"a":0,"b":4,"v":-2.8},{"r":8,"a":11,"b":12,"v":-1.8},{"r":8,"a":12,"b":14,"v":-3.6},{"r":8,"a":14,"b":15,"v":-2.8},{"r":8,"a":17,"b":18,"v":-3.1},{"r":8,"a":28,"b":29,"v":-3.1},{"r":8,"a":29,"b":31,"v":-3.6},{"r":8,"a":33,"b":40,"v":-2.5},{"r":8,"a":40,"b":41,"v":-2.8},{"r":8,"a":44,"b":45,"v":-3.6},{"r":8,"a":45,"b":46,"v":-2.8},{"r":8,"a":49,"b":58,"v":-2.5},{"r":8,"a":60,"b":61,"v":-3.6},{"r":8,"a":66,"b":70,"v":-2.1},{"r":8,"a":70,"b":71,"v":-3.6},{"r":8,"a":71,"b":73,"v":-2.2},{"r":8,"a":73,"b":74,"v":-3.6},{"r":8,"a":74,"b":75,"v":-2.2},{"r":8,"a":75,"b":78,"v":-3.6},{"r":8,"a":80,"b":90,"v":-2},{"r":8,"a":97,"b":100,"v":-1.8},{"r":8,"a":100,"b":104,"v":-2.5},{"r":8,"a":104,"b":105,"v":-3.6},{"r":8,"a":105,"b":108,"v":-3.1},{"r":8,"a":112,"b":118,"v":-1.9},{"r":8,"a":118,"b":120,"v":-2.8},
{"r":9,"a":0,"b":1,"v":-3.1},{"r":9,"a":1,"b":4,"v":-0.6},{"r":9,"a":4,"b":5,"v":-2.8},{"r":9,"a":5,"b":8,"v":-1},{"r":9,"a":9,"b":10,"v":-2.8},{"r":9,"a":11,"b":17,"v":-0.7},{"r":9,"a":17,"b":20,"v":-2.8},{"r":9,"a":20,"b":22,"v":-1.8},{"r":9,"a":23,"b":25,"v":-2.2},{"r":9,"a":25,"b":27,"v":-1.2},{"r":9,"a":27,"b":29,"v":-2.8},{"r":9,"a":29,"b":33,"v":-2.2},{"r":9,"a":33,"b":39,"v":-1.2},{"r":9,"a":39,"b":44,"v":-1.8},{"r":9,"a":44,"b":48,"v":-2.5},{"r":9,"a":48,"b":50,"v":-1.2},{"r":9,"a":50,"b":56,"v":-1.8},{"r":9,"a":56,"b":58,"v":-2.8},{"r":9,"a":58,"b":64,"v":-1.8},{"r":9,"a":66,"b":75,"v":-0.6},{"r":9,"a":75,"b":78,"v":-1.2},{"r":9,"a":78,"b":81,"v":-3.1},{"r":9,"a":81,"b":82,"v":-0.6},{"r":9,"a":82,"b":90,"v":-1.9},{"r":9,"a":90,"b":97,"v":-2.8},{"r":9,"a":97,"b":103,"v":-1.8},{"r":9,"a":105,"b":109,"v":-2.8},{"r":9,"a":112,"b":119,"v":-1.9},{"r":9,"a":119,"b":128,"v":-2.8},
{"r":10,"a":1,"b":2,"v":-2.8},{"r":10,"a":8,"b":10,"v":-1.3},{"r":10,"a":10,"b":12,"v":-2.2},{"r":10,"a":12,"b":13,"v":-3.6},{"r":10,"a":13,"b":16,"v":-3.1},{"r":10,"a":16,"b":17,"v":-2.2},{"r":10,"a":18,"b":25,"v":-1.9},{"r":10,"a":25,"b":29,"v":-2.8},{"r":10,"a":29,"b":31,"v":-3.6},{"r":10,"a":33,"b":41,"v":-2.2},{"r":10,"a":41,"b":43,"v":-3.6},{"r":10,"a":43,"b":48,"v":-3.1},{"r":10,"a":48,"b":49,"v":-2.2},{"r":10,"a":50,"b":57,"v":-2.2},{"r":10,"a":59,"b":61,"v":-3.6},{"r":10,"a":61,"b":64,"v":-2.8},{"r":10,"a":66,"b":67,"v":-2.8},{"r":10,"a":67,"b":70,"v":-3.6},{"r":10,"a":70,"b":74,"v":-2.8},{"r":10,"a":77,"b":87,"v":-2.2},{"r":10,"a":89,"b":96,"v":-2.8},{"r":10,"a":96,"b":104,"v":-2.5},{"r":10,"a":104,"b":107,"v":-3.6},{"r":10,"a":107,"b":110,"v":-2.8},{"r":10,"a":110,"b":113,"v":-2.5},{"r":10,"a":113,"b":120,"v":-3.5},{"r":10,"a":120,"b":124,"v":-2.8},
{"r":11,"a":1,"b":2,"v":-2.2},{"r":11,"a":8,"b":10,"v":-0.6},{"r":11,"a":10,"b":14,"v":-1.2},{"r":11,"a":14,"b":16,"v":-2.2},{"r":11,"a":16,"b":18,"v":-3.6},{"r":11,"a":18,"b":25,"v":-1.1},{"r":11,"a":25,"b":27,"v":-2.5},{"r":11,"a":27,"b":31,"v":-2.2},{"r":11,"a":32,"b":33,"v":-2.2},{"r":11,"a":34,"b":40,"v":-2.2},{"r":11,"a":40,"b":41,"v":-3.6},{"r":11,"a":42,"b":45,"v":-2.2},{"r":11,"a":49,"b":59,"v":-1.9},{"r":11,"a":60,"b":66,"v":-2.5},{"r":11,"a":72,"b":77,"v":-2.8},{"r":11,"a":77,"b":84,"v":-1.2},{"r":11,"a":84,"b":87,"v":-2.2},{"r":11,"a":90,"b":96,"v":-2.5},{"r":11,"a":97,"b":101,"v":-2.5},{"r":11,"a":101,"b":105,"v":-3.6},{"r":11,"a":107,"b":110,"v":-1.8},{"r":11,"a":110,"b":113,"v":-2.2},{"r":11,"a":117,"b":120,"v":-2.8},{"r":11,"a":126,"b":128,"v":-2.2},
{"r":12,"a":0,"b":5,"v":-2.8},{"r":12,"a":5,"b":7,"v":-3.6},{"r":12,"a":8,"b":12,"v":-2.2},{"r":12,"a":12,"b":16,"v":-2.8},{"r":12,"a":16,"b":20,"v":-2.2},{"r":12,"a":22,"b":24,"v":-3.1},{"r":12,"a":33,"b":40,"v":-2.5},{"r":12,"a":49,"b":57,"v":-2.5},{"r":12,"a":66,"b":78,"v":-2.2},{"r":12,"a":78,"b":80,"v":-2.8},{"r":12,"a":80,"b":83,"v":-3.6},{"r":12,"a":83,"b":87,"v":-3},{"r":12,"a":100,"b":103,"v":-3.1},{"r":12,"a":115,"b":118,"v":-2.8},
{"r":13,"a":0,"b":2,"v":-3.6},{"r":13,"a":3,"b":4,"v":-3.1},{"r":13,"a":4,"b":5,"v":-3.6},{"r":13,"a":7,"b":9,"v":-3.1},{"r":13,"a":10,"b":11,"v":-3.6},{"r":13,"a":11,"b":13,"v":-3.1},{"r":13,"a":13,"b":14,"v":-3.6},{"r":13,"a":15,"b":17,"v":-2.5},{"r":13,"a":17,"b":20,"v":-2.8},{"r":13,"a":20,"b":22,"v":-3.1},{"r":13,"a":26,"b":27,"v":-3.6},{"r":13,"a":31,"b":33,"v":-3.6},{"r":13,"a":33,"b":41,"v":-2.2},{"r":13,"a":41,"b":43,"v":-3.6},{"r":13,"a":43,"b":45,"v":-3.1},{"r":13,"a":46,"b":47,"v":-3.6},{"r":13,"a":49,"b":57,"v":-2.2},{"r":13,"a":63,"b":64,"v":-2.8},{"r":13,"a":66,"b":69,"v":-3.1},{"r":13,"a":70,"b":72,"v":-3.1},{"r":13,"a":73,"b":75,"v":-2.8},{"r":13,"a":79,"b":80,"v":-3.1},{"r":13,"a":80,"b":82,"v":-3.6},{"r":13,"a":82,"b":86,"v":-2.2},{"r":13,"a":86,"b":87,"v":-1.8},{"r":13,"a":93,"b":96,"v":-2.8},{"r":13,"a":97,"b":103,"v":-2.2},{"r":13,"a":103,"b":105,"v":-3.1},{"r":13,"a":106,"b":109,"v":-3.1},{"r":13,"a":110,"b":112,"v":-3.1},{"r":13,"a":112,"b":118,"v":-2.2},{"r":13,"a":119,"b":120,"v":-3.6},{"r":13,"a":121,"b":122,"v":-3.1},{"r":13,"a":123,"b":128,"v":-3.2},
{"r":14,"a":0,"b":1,"v":-0.9},{"r":14,"a":1,"b":8,"v":-1.9},{"r":14,"a":9,"b":10,"v":-2.2},{"r":14,"a":10,"b":14,"v":-1.8},{"r":14,"a":14,"b":18,"v":-1.3},{"r":14,"a":18,"b":20,"v":-1.8},{"r":14,"a":20,"b":23,"v":-1},{"r":14,"a":23,"b":33,"v":-2.8},{"r":14,"a":33,"b":41,"v":-1.8},{"r":14,"a":41,"b":49,"v":-2.8},{"r":14,"a":49,"b":57,"v":-1.8},{"r":14,"a":57,"b":64,"v":-2.8},{"r":14,"a":64,"b":65,"v":-3.6},{"r":14,"a":65,"b":66,"v":-2.8},{"r":14,"a":66,"b":77,"v":-1.9},{"r":14,"a":77,"b":81,"v":-1.1},{"r":14,"a":81,"b":87,"v":-1.9},{"r":14,"a":87,"b":96,"v":-2.9},{"r":14,"a":96,"b":103,"v":-1.9},{"r":14,"a":103,"b":112,"v":-2.9},{"r":14,"a":112,"b":118,"v":-1.9},{"r":14,"a":118,"b":128,"v":-2.8},
{"r":15,"a":1,"b":8,"v":-2},{"r":15,"a":9,"b":10,"v":-3.6},{"r":15,"a":10,"b":20,"v":-2.1},{"r":15,"a":20,"b":22,"v":-3.6},{"r":15,"a":22,"b":24,"v":-2.8},{"r":15,"a":26,"b":29,"v":-3.1},{"r":15,"a":29,"b":32,"v":-3.6},{"r":15,"a":33,"b":41,"v":-2.1},{"r":15,"a":44,"b":46,"v":-3.1},{"r":15,"a":48,"b":49,"v":-2.8},{"r":15,"a":50,"b":57,"v":-2.2},{"r":15,"a":60,"b":61,"v":-3.6},{"r":15,"a":62,"b":63,"v":-3.6},{"r":15,"a":66,"b":77,"v":-1.9},{"r":15,"a":77,"b":78,"v":-1.2},{"r":15,"a":78,"b":81,"v":-2.8},{"r":15,"a":81,"b":83,"v":-1.2},{"r":15,"a":83,"b":86,"v":-1.8},{"r":15,"a":86,"b":90,"v":-2.8},{"r":15,"a":92,"b":96,"v":-2.8},{"r":15,"a":97,"b":103,"v":-1.9},{"r":15,"a":104,"b":106,"v":-2.8},{"r":15,"a":106,"b":109,"v":-3.6},{"r":15,"a":109,"b":112,"v":-3.1},{"r":15,"a":112,"b":118,"v":-1.9},{"r":15,"a":120,"b":122,"v":-2.8},{"r":15,"a":123,"b":124,"v":-2.8},
{"r":16,"a":0,"b":1,"v":-2.8},{"r":16,"a":6,"b":7,"v":-3.6},{"r":16,"a":8,"b":10,"v":-2.2},{"r":16,"a":17,"b":18,"v":-2.2},{"r":16,"a":20,"b":24,"v":-3},{"r":16,"a":33,"b":34,"v":-3.6},{"r":16,"a":36,"b":38,"v":-3.6},{"r":16,"a":40,"b":41,"v":-3.1},{"r":16,"a":49,"b":51,"v":-2.8},{"r":16,"a":51,"b":54,"v":-2.5},{"r":16,"a":54,"b":55,"v":-2.2},{"r":16,"a":55,"b":56,"v":-2.8},{"r":16,"a":67,"b":68,"v":-3.6},{"r":16,"a":70,"b":71,"v":-2.8},{"r":16,"a":72,"b":73,"v":-3.6},{"r":16,"a":74,"b":75,"v":-2.8},{"r":16,"a":76,"b":77,"v":-2.5},{"r":16,"a":78,"b":79,"v":-2.8},{"r":16,"a":81,"b":86,"v":-2.2},{"r":16,"a":86,"b":87,"v":-3.6},{"r":16,"a":97,"b":100,"v":-2.3},{"r":16,"a":112,"b":116,"v":-2.3},
{"r":17,"a":0,"b":4,"v":-2.8},{"r":17,"a":6,"b":7,"v":-3.1},{"r":17,"a":8,"b":11,"v":-2.2},{"r":17,"a":11,"b":12,"v":-2.5},{"r":17,"a":13,"b":14,"v":-3.6},{"r":17,"a":15,"b":16,"v":-3.6},{"r":17,"a":17,"b":19,"v":-2.8},{"r":17,"a":19,"b":24,"v":-2.5},{"r":17,"a":33,"b":41,"v":-2.8},{"r":17,"a":49,"b":50,"v":-2.8},{"r":17,"a":50,"b":57,"v":-2.5},{"r":17,"a":66,"b":69,"v":-2.8},{"r":17,"a":71,"b":84,"v":-2.2},{"r":17,"a":84,"b":87,"v":-2.8},{"r":17,"a":97,"b":102,"v":-2.5},{"r":17,"a":103,"b":104,"v":-3.6},{"r":17,"a":105,"b":106,"v":-3.1},{"r":17,"a":112,"b":119,"v":-2.6},
{"r":18,"a":10,"b":12,"v":-2.6},{"r":18,"a":14,"b":16,"v":-3},{"r":18,"a":18,"b":20,"v":-3.6},{"r":18,"a":20,"b":21,"v":-1.8},{"r":18,"a":33,"b":40,"v":-1.8},{"r":18,"a":50,"b":56,"v":-1.7},{"r":18,"a":56,"b":57,"v":-1.2},{"r":18,"a":67,"b":68,"v":-2.2},{"r":18,"a":69,"b":71,"v":-2.2},{"r":18,"a":75,"b":78,"v":-3.6},{"r":18,"a":79,"b":80,"v":-2.8},{"r":18,"a":81,"b":84,"v":-2.2},{"r":18,"a":84,"b":87,"v":-3.6},{"r":18,"a":97,"b":102,"v":-3.1},{"r":18,"a":112,"b":114,"v":-3.6},{"r":18,"a":115,"b":117,"v":-3.1},
{"r":19,"a":1,"b":2,"v":-2.2},{"r":19,"a":2,"b":10,"v":-1.9},{"r":19,"a":10,"b":20,"v":-2.1},{"r":19,"a":20,"b":21,"v":-1.2},{"r":19,"a":22,"b":23,"v":-2.2},{"r":19,"a":23,"b":25,"v":-1.8},{"r":19,"a":26,"b":28,"v":-3.6},{"r":19,"a":30,"b":33,"v":-3.1},{"r":19,"a":33,"b":41,"v":-1.8},{"r":19,"a":44,"b":46,"v":-3.6},{"r":19,"a":49,"b":57,"v":-1.3},{"r":19,"a":58,"b":59,"v":-3.1},{"r":19,"a":60,"b":61,"v":-3.1},{"r":19,"a":64,"b":66,"v":-3.1},{"r":19,"a":66,"b":68,"v":-2.2},{"r":19,"a":69,"b":75,"v":-2.2},{"r":19,"a":76,"b":77,"v":-1.2},{"r":19,"a":77,"b":87,"v":-1.9},{"r":19,"a":88,"b":90,"v":-3.6},{"r":19,"a":94,"b":95,"v":-3.6},{"r":19,"a":97,"b":103,"v":-1.9},{"r":19,"a":105,"b":106,"v":-2.8},{"r":19,"a":112,"b":118,"v":-1.9},{"r":19,"a":121,"b":124,"v":-3.1},
{"r":20,"a":0,"b":1,"v":-3.6},{"r":20,"a":2,"b":4,"v":-0.8},{"r":20,"a":4,"b":5,"v":-2.8},{"r":20,"a":6,"b":8,"v":-3.6},{"r":20,"a":10,"b":14,"v":-0.9},{"r":20,"a":15,"b":16,"v":-1.2},{"r":20,"a":16,"b":19,"v":-0.7},{"r":20,"a":19,"b":20,"v":-1.2},{"r":20,"a":20,"b":22,"v":-0.9},{"r":20,"a":22,"b":24,"v":-1.2},{"r":20,"a":26,"b":28,"v":-2.8},{"r":20,"a":28,"b":32,"v":-3.1},{"r":20,"a":32,"b":33,"v":-2.8},{"r":20,"a":33,"b":41,"v":-0.65},{"r":20,"a":41,"b":43,"v":-2.8},{"r":20,"a":43,"b":46,"v":-3.1},{"r":20,"a":46,"b":48,"v":-2.5},{"r":20,"a":50,"b":57,"v":-0.65},{"r":20,"a":57,"b":64,"v":-3},{"r":20,"a":66,"b":67,"v":-1.2},{"r":20,"a":68,"b":69,"v":-0.8},{"r":20,"a":70,"b":71,"v":-1.2},{"r":20,"a":71,"b":72,"v":-3.6},{"r":20,"a":73,"b":75,"v":-1.2},{"r":20,"a":75,"b":77,"v":-0.9},{"r":20,"a":77,"b":79,"v":-2.8},{"r":20,"a":79,"b":80,"v":-0.8},{"r":20,"a":81,"b":87,"v":-1.8},{"r":20,"a":88,"b":89,"v":-2.8},{"r":20,"a":90,"b":95,"v":-3.1},{"r":20,"a":97,"b":103,"v":-1.9},{"r":20,"a":103,"b":106,"v":-3.1},{"r":20,"a":107,"b":112,"v":-2.8},{"r":20,"a":112,"b":118,"v":-1.9},{"r":20,"a":118,"b":120,"v":-2.8},{"r":20,"a":122,"b":128,"v":-2.8},
{"r":21,"a":1,"b":4,"v":-2.5},{"r":21,"a":4,"b":5,"v":-3.6},{"r":21,"a":5,"b":7,"v":-3.1},{"r":21,"a":8,"b":9,"v":-2.8},{"r":21,"a":10,"b":20,"v":-2.5},{"r":21,"a":30,"b":31,"v":-3.6},{"r":21,"a":31,"b":41,"v":-2.5},{"r":21,"a":41,"b":44,"v":-2.8},{"r":21,"a":44,"b":46,"v":-3.1},{"r":21,"a":46,"b":49,"v":-2.8},{"r":21,"a":50,"b":57,"v":-2.5},{"r":21,"a":58,"b":59,"v":-2.8},{"r":21,"a":63,"b":64,"v":-3.6},{"r":21,"a":65,"b":68,"v":-2.8},{"r":21,"a":69,"b":70,"v":-2.8},{"r":21,"a":71,"b":73,"v":-2.8},{"r":21,"a":81,"b":87,"v":-1.9},{"r":21,"a":97,"b":99,"v":-1},{"r":21,"a":99,"b":103,"v":-1.9},{"r":21,"a":112,"b":113,"v":-1.2},{"r":21,"a":113,"b":118,"v":-1.7},{"r":21,"a":121,"b":122,"v":-3.6},
{"r":22,"a":16,"b":17,"v":-3.6},{"r":22,"a":18,"b":19,"v":-2.5},{"r":22,"a":19,"b":20,"v":-3.6},{"r":22,"a":22,"b":24,"v":-2.8},{"r":22,"a":34,"b":40,"v":-1.8},{"r":22,"a":50,"b":57,"v":-1.6},{"r":22,"a":66,"b":67,"v":-2.8},{"r":22,"a":69,"b":70,"v":-2.5},{"r":22,"a":72,"b":74,"v":-3.6},{"r":22,"a":81,"b":83,"v":-1.8},{"r":22,"a":84,"b":86,"v":-3.6},{"r":22,"a":97,"b":102,"v":-2.1},{"r":22,"a":112,"b":117,"v":-2.1},
{"r":23,"a":1,"b":2,"v":-2.8},{"r":23,"a":7,"b":8,"v":-3.6},{"r":23,"a":11,"b":12,"v":-1.8},{"r":23,"a":12,"b":16,"v":-2.2},{"r":23,"a":17,"b":18,"v":-2.2},{"r":23,"a":20,"b":21,"v":-2.2},{"r":23,"a":23,"b":24,"v":-3.6},{"r":23,"a":34,"b":40,"v":-1.9},{"r":23,"a":50,"b":57,"v":-1.9},{"r":23,"a":66,"b":67,"v":-1.8},{"r":23,"a":68,"b":70,"v":-2.2},{"r":23,"a":71,"b":72,"v":-1.8},{"r":23,"a":73,"b":75,"v":-2.5},{"r":23,"a":76,"b":77,"v":-2.5},{"r":23,"a":81,"b":82,"v":-1.2},{"r":23,"a":82,"b":83,"v":-2.2},{"r":23,"a":84,"b":86,"v":-1.2},{"r":23,"a":97,"b":100,"v":-1.3},{"r":23,"a":101,"b":102,"v":-3.6},{"r":23,"a":112,"b":115,"v":-1.8},{"r":23,"a":116,"b":117,"v":-2.2},
{"r":24,"a":0,"b":4,"v":-2.5},{"r":24,"a":5,"b":8,"v":-3.6},{"r":24,"a":8,"b":12,"v":-2.2},{"r":24,"a":12,"b":14,"v":-2.8},{"r":24,"a":14,"b":17,"v":-3.1},{"r":24,"a":17,"b":20,"v":-2.5},{"r":24,"a":20,"b":24,"v":-2.2},{"r":24,"a":32,"b":33,"v":-3.6},{"r":24,"a":33,"b":36,"v":-2.5},{"r":24,"a":36,"b":38,"v":-3.1},{"r":24,"a":38,"b":41,"v":-2.8},{"r":24,"a":49,"b":57,"v":-2.7},{"r":24,"a":69,"b":72,"v":-2.2},{"r":24,"a":73,"b":74,"v":-3.6},{"r":24,"a":74,"b":82,"v":-2.5},{"r":24,"a":83,"b":87,"v":-2.8},{"r":24,"a":97,"b":100,"v":-3.1},{"r":24,"a":100,"b":102,"v":-2.5},{"r":24,"a":112,"b":114,"v":-3.1},{"r":24,"a":114,"b":118,"v":-2.5},
{"r":25,"a":1,"b":3,"v":-3.1},{"r":25,"a":6,"b":7,"v":-2.2},{"r":25,"a":8,"b":11,"v":-1.8},{"r":25,"a":11,"b":13,"v":-3.1},{"r":25,"a":13,"b":14,"v":-2.8},{"r":25,"a":15,"b":16,"v":-3.6},{"r":25,"a":17,"b":18,"v":-1.2},{"r":25,"a":18,"b":24,"v":-2.2},{"r":25,"a":33,"b":41,"v":-2.5},{"r":25,"a":49,"b":51,"v":-3.6},{"r":25,"a":51,"b":52,"v":-2.8},{"r":25,"a":52,"b":57,"v":-2.2},{"r":25,"a":67,"b":68,"v":-3.1},{"r":25,"a":70,"b":73,"v":-2.2},{"r":25,"a":75,"b":81,"v":-2.3},{"r":25,"a":81,"b":87,"v":-2.8},{"r":25,"a":97,"b":102,"v":-2.8},{"r":25,"a":112,"b":114,"v":-3.1},{"r":25,"a":114,"b":118,"v":-2.8},
{"r":26,"a":1,"b":3,"v":-3.6},{"r":26,"a":8,"b":10,"v":-2.8},{"r":26,"a":10,"b":11,"v":-3.6},{"r":26,"a":13,"b":14,"v":-3.6},{"r":26,"a":17,"b":24,"v":-1.5},{"r":26,"a":33,"b":41,"v":-1.2},{"r":26,"a":49,"b":51,"v":-1.2},{"r":26,"a":51,"b":53,"v":-2},{"r":26,"a":53,"b":57,"v":-1.1},{"r":26,"a":67,"b":68,"v":-3.1},{"r":26,"a":69,"b":70,"v":-3.6},{"r":26,"a":71,"b":73,"v":-3.1},{"r":26,"a":78,"b":79,"v":-3.6},{"r":26,"a":81,"b":87,"v":-2.1},{"r":26,"a":97,"b":102,"v":-2.2},{"r":26,"a":112,"b":118,"v":-2.5}
    ]},
    "mark":{"type":"rect"},
    "encoding":{"x":{"field":"a","type":"quantitative","scale":{"domain":[0,128],"nice":false,"zero":false},"axis":null},"x2":{"field":"b"},"y":{"field":"r","type":"ordinal","scale":{"domain":[0,1,2,3,4,5,6,7,8,9,10,11,12,13,14,15,16,17,18,19,20,21,22,23,24,25,26],"paddingInner":0,"paddingOuter":0},"axis":null},"color":{"field":"v","type":"quantitative","scale":{"domain":[-4,-3.4,-3,-2.6,-2.2,-1.8,-1.4,-1,-0.7,-0.4,0],"range":["#00008f","#0020e0","#0080ff","#00b8f0","#00d8d0","#00e8a0","#20f070","#a0e010","#e0c800","#f8a000","#ff0000"]},"legend":null}}},
   {"width":587,"height":70.7,
    "encoding":{"x":{"field":"x","type":"quantitative","scale":{"domain":[-8.81,4.84],"nice":false,"zero":false},"axis":null},"y":{"field":"y","type":"quantitative","scale":{"domain":[1,0],"nice":false,"zero":false},"axis":null}},
    "layer":[
     {"data":{"values":[{"x":-4.465,"x2":0.477,"y":0.42,"y2":1}]},"mark":{"type":"rect","fill":"white","stroke":"black","strokeWidth":2.5},"encoding":{"x2":{"field":"x2"},"y2":{"field":"y2"}}},
     {"data":{"values":[{"x":-4,"x2":-3.8,"y":0.491,"y2":0.566,"c":-3.9},{"x":-3.8,"x2":-3.6,"y":0.491,"y2":0.566,"c":-3.7},{"x":-3.6,"x2":-3.4,"y":0.491,"y2":0.566,"c":-3.5},{"x":-3.4,"x2":-3.2,"y":0.491,"y2":0.566,"c":-3.3},{"x":-3.2,"x2":-3,"y":0.491,"y2":0.566,"c":-3.1},{"x":-3,"x2":-2.8,"y":0.491,"y2":0.566,"c":-2.9},{"x":-2.8,"x2":-2.6,"y":0.491,"y2":0.566,"c":-2.7},{"x":-2.6,"x2":-2.4,"y":0.491,"y2":0.566,"c":-2.5},{"x":-2.4,"x2":-2.2,"y":0.491,"y2":0.566,"c":-2.3},{"x":-2.2,"x2":-2,"y":0.491,"y2":0.566,"c":-2.1},{"x":-2,"x2":-1.8,"y":0.491,"y2":0.566,"c":-1.9},{"x":-1.8,"x2":-1.6,"y":0.491,"y2":0.566,"c":-1.7},{"x":-1.6,"x2":-1.4,"y":0.491,"y2":0.566,"c":-1.5},{"x":-1.4,"x2":-1.2,"y":0.491,"y2":0.566,"c":-1.3},{"x":-1.2,"x2":-1,"y":0.491,"y2":0.566,"c":-1.1},{"x":-1,"x2":-0.8,"y":0.491,"y2":0.566,"c":-0.9},{"x":-0.8,"x2":-0.6,"y":0.491,"y2":0.566,"c":-0.7},{"x":-0.6,"x2":-0.4,"y":0.491,"y2":0.566,"c":-0.5},{"x":-0.4,"x2":-0.2,"y":0.491,"y2":0.566,"c":-0.3},{"x":-0.2,"x2":0,"y":0.491,"y2":0.566,"c":-0.1}]},"mark":{"type":"rect"},"encoding":{"x2":{"field":"x2"},"y2":{"field":"y2"},"color":{"field":"c","type":"quantitative","scale":{"domain":[-4,-3.4,-3,-2.6,-2.2,-1.8,-1.4,-1,-0.7,-0.4,0],"range":["#00008f","#0020e0","#0080ff","#00b8f0","#00d8d0","#00e8a0","#20f070","#a0e010","#e0c800","#f8a000","#ff0000"]},"legend":null}}},
     {"data":{"values":[{"x":-3,"y":0.491,"y2":0.566},{"x":-2,"y":0.491,"y2":0.566},{"x":-1,"y":0.491,"y2":0.566}]},"mark":{"type":"rule","stroke":"black","strokeWidth":1.5},"encoding":{"y2":{"field":"y2"}}},
     {"data":{"values":[{"x":-4.05,"y":0.53,"t":"-4"}]},"mark":{"type":"text","fontSize":13,"fontWeight":"bold","align":"right","baseline":"middle"},"encoding":{"text":{"field":"t"}}},
     {"data":{"values":[{"x":0.08,"y":0.53,"t":"0"}]},"mark":{"type":"text","fontSize":13,"fontWeight":"bold","align":"left","baseline":"middle"},"encoding":{"text":{"field":"t"}}},
     {"data":{"values":[{"x":-2.04,"y":0.764,"t":"log₁₀(Abundance)"}]},"mark":{"type":"text","fontSize":19,"fontWeight":"bold","baseline":"middle"},"encoding":{"text":{"field":"t"}}}
    ]}
  ],"spacing":0,"bounds":"flush","resolve":{"scale":{"color":"independent","stroke":"independent","shape":"independent"}}},
  {"vconcat":[
   {"width":166,"height":293.7,
    "encoding":{"x":{"field":"x","type":"quantitative","scale":{"domain":[-0.66,2.69],"nice":false,"zero":false},"axis":{"title":null,"values":[0,1,2],"labelExpr":"['GF','R. torques','E. coli'][datum.value]","labelFontStyle":{"condition":{"test":"datum.value>0","value":"italic"},"value":"normal"},"labelAngle":-45,"labelAlign":"right","labelBaseline":"top","tickSize":11,"tickWidth":3.5,"domainWidth":3.5,"labelFontSize":20,"labelPadding":2}},
     "y":{"field":"y","type":"quantitative","stack":null,"scale":{"domain":[0,47.5],"nice":false,"zero":false},"axis":{"title":null,"values":[0,10,20,30,40],"domain":false,"tickSize":11,"tickWidth":3.5,"labelFontSize":20,"labelPadding":3}}},
    "layer":[
     {"data":{"values":[{"x":-0.66,"y":0,"y2":40}]},"mark":{"type":"rule","strokeWidth":3.5,"color":"black"},"encoding":{"y2":{"field":"y2"}}},
     {"data":{"values":[{"x":0,"y":10,"k":"GF"},{"x":1,"y":23.6,"k":"R"},{"x":2,"y":11.1,"k":"E"}]},"mark":{"type":"bar","orient":"vertical","width":29,"fill":"white","strokeWidth":3.5},"encoding":{"stroke":{"field":"k","type":"nominal","scale":{"domain":["GF","R","E"],"range":["#000000","#7f3f00","#4d9fff"]},"legend":null}}},
     {"data":{"values":[{"x":0,"y":8,"y2":11.6,"k":"GF"},{"x":1,"y":22.1,"y2":25.1,"k":"R"},{"x":2,"y":8.8,"y2":13.5,"k":"E"}]},"mark":{"type":"errorbar","ticks":{"size":17,"thickness":2},"rule":{"strokeWidth":2}},"encoding":{"y2":{"field":"y2"},"color":{"field":"k","type":"nominal","scale":{"domain":["GF","R","E"],"range":["#000000","#7f3f00","#4d9fff"]},"legend":null}}},
     {"data":{"values":[{"x":0,"y":15.9,"k":"GF"},{"x":-0.26,"y":14.2,"k":"GF"},{"x":0,"y":14.3,"k":"GF"},{"x":0.26,"y":14,"k":"GF"},{"x":-0.26,"y":10,"k":"GF"},{"x":0.26,"y":10,"k":"GF"},{"x":-0.26,"y":2.8,"k":"GF"},{"x":0,"y":3.9,"k":"GF"},{"x":0.26,"y":3.7,"k":"GF"},{"x":1,"y":31.1,"k":"R"},{"x":1,"y":29.6,"k":"R"},{"x":1,"y":27.1,"k":"R"},{"x":1,"y":23,"k":"R"},{"x":1,"y":20.8,"k":"R"},{"x":0.75,"y":21,"k":"R"},{"x":0.75,"y":19.2,"k":"R"},{"x":1.25,"y":21.2,"k":"R"},{"x":1.25,"y":19.8,"k":"R"},{"x":2,"y":22.8,"k":"E"},{"x":2,"y":20.8,"k":"E"},{"x":2,"y":12.7,"k":"E"},{"x":1.75,"y":12.9,"k":"E"},{"x":2,"y":9.7,"k":"E"},{"x":2,"y":8.2,"k":"E"},{"x":2,"y":6.6,"k":"E"},{"x":1.75,"y":3.2,"k":"E"},{"x":2.25,"y":3.2,"k":"E"}]},"mark":{"type":"point","filled":true,"opacity":1,"size":60,"shape":"circle"},"encoding":{"color":{"field":"k","type":"nominal","scale":{"domain":["GF","R","E"],"range":["#000000","#7f3f00","#4d9fff"]},"legend":null}}},
     {"data":{"values":[{"x":0.195,"x2":1.9,"y":45.3},{"x":0.97,"x2":1.9,"y":41.1},{"x":0.07,"x2":1,"y":36.8}]},"mark":{"type":"rule","strokeWidth":2.5,"color":"black"},"encoding":{"x2":{"field":"x2"}}},
     {"data":{"values":[{"x":0.53,"y":36.8,"t":"****"},{"x":1.37,"y":41.1,"t":"***"}]},"mark":{"type":"text","fontSize":28,"dy":9,"baseline":"alphabetic"},"encoding":{"text":{"field":"t"}}},
     {"data":{"values":[{"x":1.04,"y":45.3,"t":"n.s."}]},"mark":{"type":"text","fontSize":28.5,"dy":-2,"baseline":"alphabetic"},"encoding":{"text":{"field":"t"}}},
     {"data":{"values":[{"x":-2.32,"y":6.6,"t":"Mucispirillum"}]},"mark":{"type":"text","fontSize":20,"fontStyle":"italic","angle":270,"baseline":"middle"},"encoding":{"text":{"field":"t"}}},
     {"data":{"values":[{"x":-2.32,"y":30.2,"t":"DNA concentration"},{"x":-1.77,"y":19.5,"t":"(ng/ml culture)"}]},"mark":{"type":"text","fontSize":20,"angle":270,"baseline":"middle"},"encoding":{"text":{"field":"t"}}},
     {"data":{"values":[{"x":-2.82,"y":46.4,"t":"F"}]},"mark":{"type":"text","fontSize":24,"fontWeight":"bold","baseline":"middle"},"encoding":{"text":{"field":"t"}}}
    ]},
   {"width":166,"height":307.7,
    "encoding":{"x":{"field":"x","type":"quantitative","scale":{"domain":[-0.714,2.674],"nice":false,"zero":false},"axis":{"title":null,"values":[0,1,2],"labelExpr":"['GF','R.torques','E.coli'][datum.value]","labelFontStyle":{"condition":{"test":"datum.value>0","value":"italic"},"value":"normal"},"labelAngle":-45,"labelAlign":"right","labelBaseline":"top","tickSize":11,"tickWidth":3.5,"domainWidth":3.5,"labelFontSize":20,"labelPadding":2}},
     "y":{"field":"y","type":"quantitative","stack":null,"scale":{"domain":[0,200,200.02,508],"range":[307.7,194,175.7,0],"nice":false,"zero":false},"axis":{"title":null,"offset":-3,"values":[0,100,200,200.02,300,400],"format":"d","domain":false,"tickSize":11,"tickWidth":3.5,"labelFontSize":20,"labelPadding":3}}},
    "layer":[
     {"data":{"values":[{"x":-0.66,"y":0,"y2":200},{"x":-0.66,"y":200.02,"y2":400}]},"mark":{"type":"rule","strokeWidth":3.5,"color":"black"},"encoding":{"y2":{"field":"y2"}}},
     {"data":{"values":[{"x":0,"y":27.6,"k":"GF"},{"x":1,"y":120.5,"k":"R"},{"x":2,"y":33,"k":"E"}]},"mark":{"type":"bar","orient":"vertical","width":29,"fill":"white","strokeWidth":3.5},"encoding":{"stroke":{"field":"k","type":"nominal","scale":{"domain":["GF","R","E"],"range":["#000000","#7f3f00","#4d9fff"]},"legend":null}}},
     {"data":{"values":[{"x":0,"y":16.5,"y2":40,"k":"GF"},{"x":1,"y":90,"y2":153,"k":"R"},{"x":2,"y":24,"y2":40,"k":"E"}]},"mark":{"type":"errorbar","ticks":{"size":17,"thickness":2},"rule":{"strokeWidth":2}},"encoding":{"y2":{"field":"y2"},"color":{"field":"k","type":"nominal","scale":{"domain":["GF","R","E"],"range":["#000000","#7f3f00","#4d9fff"]},"legend":null}}},
     {"data":{"values":[{"x":-0.25,"y":59,"k":"GF"},{"x":0,"y":48,"k":"GF"},{"x":0,"y":34,"k":"GF"},{"x":0,"y":28,"k":"GF"},{"x":-0.25,"y":0,"k":"GF"},{"x":0.25,"y":0,"k":"GF"},{"x":1,"y":285,"k":"R"},{"x":1,"y":157,"k":"R"},{"x":1,"y":144,"k":"R"},{"x":0.75,"y":59,"k":"R"},{"x":1,"y":63.5,"k":"R"},{"x":1.25,"y":75,"k":"R"},{"x":1.25,"y":60.5,"k":"R"},{"x":1.75,"y":56,"k":"E"},{"x":2.25,"y":54,"k":"E"},{"x":2.25,"y":37,"k":"E"},{"x":2,"y":29,"k":"E"},{"x":1.75,"y":9,"k":"E"},{"x":2.25,"y":10,"k":"E"}]},"mark":{"type":"point","filled":true,"opacity":1,"size":60,"shape":"circle"},"encoding":{"color":{"field":"k","type":"nominal","scale":{"domain":["GF","R","E"],"range":["#000000","#7f3f00","#4d9fff"]},"legend":null}}},
     {"data":{"values":[{"x":0.18,"x2":1.9,"y":459},{"x":0.986,"x2":1.92,"y":413.5},{"x":0,"x2":0.97,"y":368}]},"mark":{"type":"rule","strokeWidth":2.5,"color":"black"},"encoding":{"x2":{"field":"x2"}}},
     {"data":{"values":[{"x":0.48,"y":368,"t":"*"},{"x":1.34,"y":413.5,"t":"*"}]},"mark":{"type":"text","fontSize":28,"dy":9,"baseline":"alphabetic"},"encoding":{"text":{"field":"t"}}},
     {"data":{"values":[{"x":1.05,"y":459,"t":"n.s."}]},"mark":{"type":"text","fontSize":28.5,"dy":-3,"baseline":"alphabetic"},"encoding":{"text":{"field":"t"}}},
     {"data":{"values":[{"x":-2.61,"y":200.01,"t":"Mucispirillum"}]},"mark":{"type":"text","fontSize":19.6,"fontStyle":"italic","angle":270,"baseline":"middle"},"encoding":{"text":{"field":"t"}}},
     {"data":{"values":[{"x":-2.1,"y":200.01,"t":"relative abundance"}]},"mark":{"type":"text","fontSize":19.6,"angle":270,"baseline":"middle"},"encoding":{"text":{"field":"t"}}},
     {"data":{"values":[{"x":-2.86,"y":462,"t":"G"}]},"mark":{"type":"text","fontSize":24,"fontWeight":"bold","baseline":"middle"},"encoding":{"text":{"field":"t"}}}
    ]}
  ],"spacing":124.3,"bounds":"flush","resolve":{"scale":{"color":"independent","stroke":"independent","shape":"independent"}}}
 ],"spacing":756,"bounds":"flush","resolve":{"scale":{"color":"independent","stroke":"independent","shape":"independent"}}}
],"spacing":504,"bounds":"flush","resolve":{"scale":{"color":"independent","stroke":"independent","shape":"independent"}}}
]}
